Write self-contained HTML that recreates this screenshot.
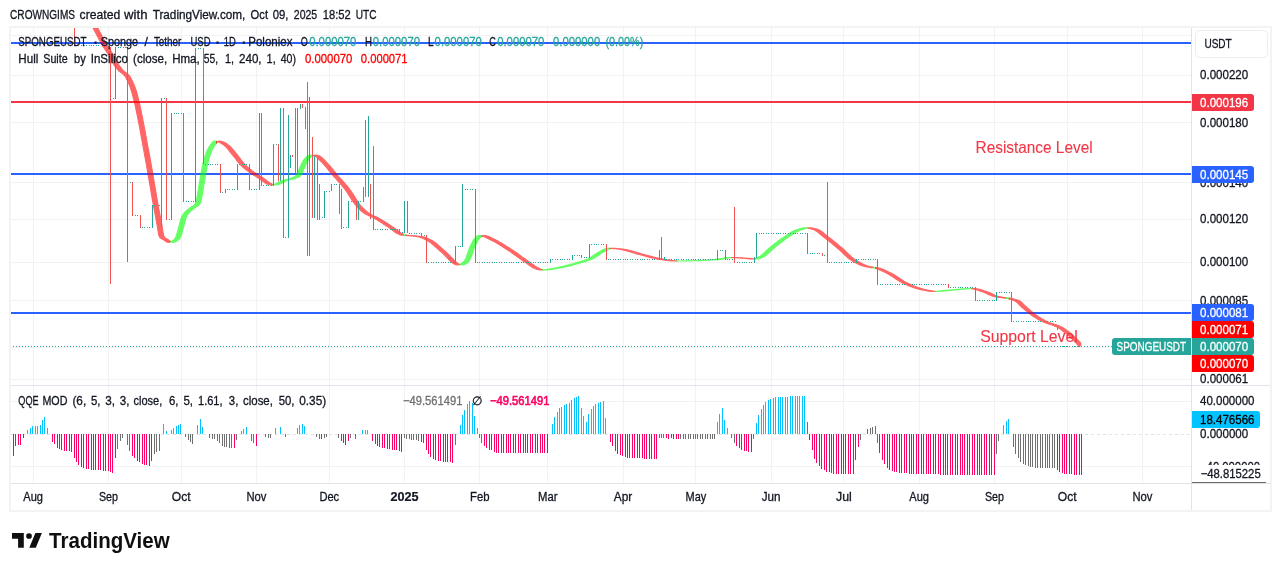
<!DOCTYPE html>
<html lang="en">
<head>
<meta charset="utf-8">
<title>SPONGEUSDT chart</title>
<style>
html,body{margin:0;padding:0;background:#fff;}
body{width:1281px;height:571px;overflow:hidden;font-family:"Liberation Sans",sans-serif;}
svg{display:block;}
</style>
</head>
<body>
<svg width="1281" height="571" viewBox="0 0 1281 571">
<rect x="0" y="0" width="1281" height="571" fill="#ffffff"/>
<g fill="#f2f2f2" shape-rendering="crispEdges">
<rect x="33" y="27" width="1" height="456"/>
<rect x="108" y="27" width="1" height="456"/>
<rect x="181" y="27" width="1" height="456"/>
<rect x="256" y="27" width="1" height="456"/>
<rect x="329" y="27" width="1" height="456"/>
<rect x="404" y="27" width="1" height="456"/>
<rect x="479" y="27" width="1" height="456"/>
<rect x="547" y="27" width="1" height="456"/>
<rect x="623" y="27" width="1" height="456"/>
<rect x="695" y="27" width="1" height="456"/>
<rect x="771" y="27" width="1" height="456"/>
<rect x="843" y="27" width="1" height="456"/>
<rect x="919" y="27" width="1" height="456"/>
<rect x="994" y="27" width="1" height="456"/>
<rect x="1067" y="27" width="1" height="456"/>
<rect x="1142" y="27" width="1" height="456"/>
<rect x="11" y="35" width="1180" height="1"/>
<rect x="11" y="75" width="1180" height="1"/>
<rect x="11" y="122" width="1180" height="1"/>
<rect x="11" y="182" width="1180" height="1"/>
<rect x="11" y="219" width="1180" height="1"/>
<rect x="11" y="262" width="1180" height="1"/>
<rect x="11" y="300" width="1180" height="1"/>
<rect x="11" y="347" width="1180" height="1"/>
<rect x="11" y="379" width="1180" height="1"/>
<rect x="11" y="401" width="1180" height="1"/>
<rect x="11" y="466" width="1180" height="1"/>
</g>
<rect x="16" y="401" width="537" height="1" fill="#ffffff" fill-opacity="0.8"/>
<line x1="11" x2="1191" y1="434.5" y2="434.5" stroke="#e2e2e2" stroke-width="1" stroke-dasharray="3 3"/>
<defs><clipPath id="cp"><rect x="11" y="27" width="1180" height="358"/></clipPath><clipPath id="cp2"><rect x="10" y="386" width="1181" height="97"/></clipPath></defs>
<g shape-rendering="crispEdges">
<rect x="11" y="42" width="1180" height="2" fill="#2962ff"/>
<rect x="11" y="101" width="1180" height="2" fill="#f23645"/>
<rect x="11" y="173" width="1180" height="2" fill="#2962ff"/>
<rect x="11" y="312" width="1180" height="2" fill="#2962ff"/>
</g>
<line x1="13" x2="1112" y1="346.5" y2="346.5" stroke="#26a69a" stroke-width="1" stroke-dasharray="1 2"/>
<g clip-path="url(#cp)">
<g opacity="0.6" fill="#ff0000" stroke="#ff0000" stroke-width="1.1" stroke-linejoin="round">
<polygon points="82.0,9.0 83.0,10.7 84.0,12.4 85.0,14.1 86.0,15.9 87.0,17.6 88.0,19.3 89.0,21.1 90.1,22.9 91.1,24.6 92.1,26.4 93.1,28.2 94.1,30.1 95.1,31.9 96.1,33.8 97.1,35.7 98.1,37.6 99.1,39.5 100.1,41.3 101.1,43.1 102.1,44.9 103.1,46.6 104.2,48.2 105.2,49.7 106.2,51.2 107.2,52.7 108.2,54.3 109.2,56.0 110.2,57.9 111.2,59.9 112.2,61.8 113.2,63.6 114.2,65.1 115.2,66.6 116.2,67.9 117.2,69.2 118.2,70.3 119.3,71.3 120.3,72.1 121.3,72.9 122.3,73.6 123.3,74.4 124.3,75.3 125.3,76.6 126.3,78.4 127.3,80.5 128.3,82.8 129.3,85.1 130.3,87.6 131.3,90.5 132.3,93.9 133.3,97.8 134.4,102.1 135.4,106.6 136.4,111.3 137.4,116.2 138.4,121.3 139.4,126.5 140.4,131.8 141.4,137.2 142.4,142.7 143.4,148.3 144.4,153.8 145.4,159.4 146.4,165.0 147.4,170.7 148.4,176.7 149.5,182.6 150.5,188.6 151.5,194.6 152.5,200.4 153.5,206.0 154.5,211.3 155.5,216.5 156.5,221.8 157.5,227.3 158.5,234.2 159.5,237.1 160.5,238.1 161.5,238.7 162.5,239.2 163.6,239.8 164.6,240.5 165.6,241.2 166.6,241.9 167.6,242.3 168.6,242.4 169.6,242.2 170.6,241.8 170.6,241.4 169.6,240.7 168.6,239.9 167.6,239.3 166.6,238.8 165.6,238.2 164.6,237.3 163.6,235.4 162.5,228.8 161.5,223.0 160.5,217.7 159.5,212.6 158.5,207.3 157.5,201.7 156.5,195.9 155.5,190.0 154.5,184.0 153.5,178.0 152.5,172.1 151.5,166.3 150.5,160.7 149.5,155.1 148.4,149.6 147.4,144.0 146.4,138.5 145.4,133.1 144.4,127.7 143.4,122.5 142.4,117.4 141.4,112.4 140.4,107.7 139.4,103.1 138.4,98.8 137.4,94.8 136.4,91.2 135.4,88.2 134.4,85.6 133.3,83.3 132.3,81.0 131.3,78.9 130.3,77.0 129.3,75.6 128.3,74.6 127.3,73.7 126.3,73.0 125.3,72.3 124.3,71.5 123.3,70.6 122.3,69.5 121.3,68.2 120.3,66.9 119.3,65.5 118.2,63.9 117.2,62.2 116.2,60.3 115.2,58.4 114.2,56.4 113.2,54.7 112.2,53.1 111.2,51.5 110.2,50.0 109.2,48.5 108.2,46.9 107.2,45.3 106.2,43.5 105.2,41.7 104.2,39.9 103.1,38.0 102.1,36.2 101.1,34.3 100.1,32.4 99.1,30.5 98.1,28.6 97.1,26.8 96.1,25.0 95.1,23.3 94.1,21.5 93.1,19.8 92.1,18.0 91.1,16.3 90.1,14.5 89.0,12.8 88.0,11.1 87.0,9.4 86.0,7.7 85.0,6.0 84.0,5.0 83.0,5.0 82.0,5.0"/>
</g>
<g opacity="0.6" fill="#00ff00" stroke="#00ff00" stroke-width="1.1" stroke-linejoin="round">
<polygon points="170.6,241.8 171.6,241.3 172.6,240.6 173.7,239.8 174.7,238.9 175.7,237.2 176.7,234.4 177.7,230.9 178.8,227.0 179.8,223.0 180.8,219.4 181.8,216.5 182.8,214.7 183.9,213.3 184.9,212.2 185.9,211.2 186.9,210.3 187.9,209.4 189.0,208.6 190.0,207.8 191.0,207.1 192.0,206.6 193.0,206.0 194.1,205.1 195.1,204.0 196.1,201.5 197.1,196.8 198.1,190.9 199.2,184.3 200.2,178.0 201.2,172.5 202.2,167.1 203.2,162.4 204.3,158.6 205.3,155.2 206.3,152.5 207.3,150.3 208.3,148.2 209.4,146.4 210.4,144.9 211.4,143.5 212.4,142.3 213.4,141.2 214.5,141.0 215.5,141.1 216.5,141.4 216.5,143.2 215.5,144.5 214.5,146.0 213.4,147.7 212.4,149.6 211.4,151.8 210.4,154.3 209.4,157.5 208.3,161.3 207.3,165.6 206.3,170.9 205.3,176.2 204.3,182.4 203.2,189.0 202.2,195.2 201.2,200.3 200.2,203.5 199.2,204.9 198.1,205.7 197.1,206.4 196.1,207.0 195.1,207.6 194.1,208.3 193.0,209.2 192.0,210.0 191.0,210.9 190.0,211.9 189.0,213.0 187.9,214.2 186.9,215.9 185.9,218.5 184.9,221.9 183.9,225.8 182.8,229.8 181.8,233.5 180.8,236.5 179.8,238.6 178.8,239.6 177.7,240.4 176.7,241.1 175.7,241.7 174.7,242.1 173.7,242.4 172.6,242.4 171.6,242.0 170.6,241.4"/>
</g>
<g opacity="0.6" fill="#ff0000" stroke="#ff0000" stroke-width="1.1" stroke-linejoin="round">
<polygon points="216.5,141.4 217.5,141.7 218.5,142.0 219.5,142.4 220.5,142.9 221.5,143.5 222.6,144.2 223.6,144.9 224.6,145.7 225.6,146.6 226.6,147.7 227.6,148.8 228.6,150.0 229.6,151.3 230.6,152.6 231.6,153.8 232.6,155.1 233.7,156.3 234.7,157.6 235.7,158.9 236.7,160.3 237.7,161.6 238.7,162.9 239.7,164.0 240.7,165.1 241.7,166.1 242.7,167.0 243.7,167.9 244.8,168.8 245.8,169.6 246.8,170.4 247.8,171.1 248.8,171.9 249.8,172.6 250.8,173.2 251.8,173.9 252.8,174.6 253.8,175.2 254.8,175.8 255.8,176.4 256.9,177.0 257.9,177.7 258.9,178.3 259.9,179.1 260.9,179.8 261.9,180.6 262.9,181.4 263.9,182.1 264.9,182.8 265.9,183.5 266.9,184.0 268.0,184.5 269.0,184.8 270.0,185.0 271.0,185.0 272.0,184.9 273.0,184.7 273.0,184.5 272.0,184.1 271.0,183.6 270.0,183.0 269.0,182.3 268.0,181.6 266.9,180.8 265.9,180.0 264.9,179.2 263.9,178.5 262.9,177.8 261.9,177.2 260.9,176.6 259.9,176.0 258.9,175.3 257.9,174.7 256.9,174.1 255.8,173.4 254.8,172.7 253.8,172.0 252.8,171.3 251.8,170.6 250.8,169.8 249.8,169.0 248.8,168.1 247.8,167.3 246.8,166.3 245.8,165.4 244.8,164.3 243.7,163.2 242.7,161.9 241.7,160.6 240.7,159.3 239.7,157.9 238.7,156.6 237.7,155.3 236.7,154.1 235.7,152.9 234.7,151.6 233.7,150.3 232.6,149.1 231.6,147.9 230.6,146.9 229.6,145.9 228.6,145.1 227.6,144.4 226.6,143.6 225.6,143.0 224.6,142.5 223.6,142.1 222.6,141.7 221.5,141.4 220.5,141.2 219.5,141.0 218.5,141.1 217.5,141.9 216.5,143.2"/>
</g>
<g opacity="0.6" fill="#00ff00" stroke="#00ff00" stroke-width="1.1" stroke-linejoin="round">
<polygon points="273.0,184.7 274.0,184.4 275.0,184.0 276.0,183.6 277.1,183.1 278.1,182.6 279.1,182.1 280.1,181.6 281.1,181.1 282.1,180.7 283.1,180.3 284.1,180.0 285.1,179.7 286.2,179.5 287.2,179.2 288.2,179.0 289.2,178.7 290.2,178.5 291.2,178.1 292.2,177.8 293.2,177.3 294.3,176.8 295.3,176.2 296.3,175.3 297.3,173.3 298.3,170.9 299.3,168.6 300.3,166.5 301.4,164.2 302.4,162.1 303.4,160.3 304.4,159.0 305.4,157.8 306.4,156.8 307.4,156.1 308.4,155.6 309.4,155.3 310.5,155.0 311.5,155.0 312.5,155.2 313.5,155.5 313.5,155.5 312.5,156.0 311.5,156.6 310.5,157.5 309.4,158.6 308.4,160.0 307.4,161.6 306.4,163.6 305.4,165.9 304.4,168.0 303.4,170.3 302.4,172.8 301.4,174.8 300.3,176.0 299.3,176.7 298.3,177.2 297.3,177.7 296.3,178.0 295.3,178.4 294.3,178.7 293.2,178.9 292.2,179.2 291.2,179.4 290.2,179.7 289.2,179.9 288.2,180.2 287.2,180.6 286.2,181.0 285.1,181.5 284.1,181.9 283.1,182.4 282.1,182.9 281.1,183.4 280.1,183.9 279.1,184.3 278.1,184.6 277.1,184.8 276.0,185.0 275.0,185.0 274.0,184.8 273.0,184.5"/>
</g>
<g opacity="0.6" fill="#ff0000" stroke="#ff0000" stroke-width="1.1" stroke-linejoin="round">
<polygon points="313.5,155.5 314.5,156.0 315.5,156.5 316.5,157.1 317.5,158.0 318.5,159.0 319.6,160.0 320.6,161.0 321.6,162.0 322.6,163.1 323.6,164.2 324.6,165.3 325.6,166.5 326.6,167.7 327.6,168.9 328.6,170.2 329.6,171.4 330.7,172.7 331.7,173.9 332.7,175.1 333.7,176.3 334.7,177.4 335.7,178.5 336.7,179.7 337.7,180.8 338.7,181.9 339.7,183.0 340.7,184.2 341.8,185.4 342.8,186.6 343.8,187.8 344.8,189.1 345.8,190.5 346.8,192.0 347.8,193.5 348.8,195.1 349.8,196.7 350.8,198.3 351.8,199.9 352.9,201.4 353.9,202.9 354.9,204.2 355.9,205.5 356.9,206.7 357.9,207.8 358.9,208.8 359.9,209.8 360.9,210.7 361.9,211.5 362.9,212.3 363.9,213.1 365.0,213.7 366.0,214.3 367.0,214.8 368.0,215.3 369.0,215.8 370.0,216.2 371.0,216.7 372.0,217.1 373.0,217.6 374.0,218.2 375.0,218.7 376.1,219.3 377.1,219.9 378.1,220.5 379.1,221.2 380.1,221.8 381.1,222.5 382.1,223.1 383.1,223.8 384.1,224.5 385.1,225.1 386.1,225.8 387.2,226.4 388.2,227.1 389.2,227.8 390.2,228.5 391.2,229.3 392.2,230.1 393.2,230.8 394.2,231.6 395.2,232.3 396.2,233.0 397.2,233.6 398.3,234.1 399.3,234.6 400.3,234.9 401.3,235.1 402.3,235.2 403.3,235.3 403.3,234.2 402.3,233.7 401.3,233.2 400.3,232.5 399.3,231.8 398.3,231.0 397.2,230.2 396.2,229.5 395.2,228.7 394.2,227.9 393.2,227.2 392.2,226.6 391.2,225.9 390.2,225.3 389.2,224.6 388.2,224.0 387.2,223.3 386.1,222.6 385.1,222.0 384.1,221.3 383.1,220.7 382.1,220.1 381.1,219.5 380.1,218.9 379.1,218.3 378.1,217.8 377.1,217.3 376.1,216.8 375.0,216.3 374.0,215.9 373.0,215.4 372.0,214.9 371.0,214.4 370.0,213.9 369.0,213.2 368.0,212.5 367.0,211.7 366.0,210.9 365.0,210.0 363.9,209.0 362.9,208.0 361.9,206.9 360.9,205.8 359.9,204.6 358.9,203.2 357.9,201.7 356.9,200.2 355.9,198.7 354.9,197.1 353.9,195.5 352.9,193.9 351.8,192.4 350.8,190.9 349.8,189.5 348.8,188.1 347.8,186.9 346.8,185.7 345.8,184.5 344.8,183.3 343.8,182.2 342.8,181.1 341.8,179.9 340.7,178.8 339.7,177.7 338.7,176.5 337.7,175.4 336.7,174.2 335.7,173.0 334.7,171.7 333.7,170.5 332.7,169.2 331.7,168.0 330.7,166.8 329.6,165.6 328.6,164.5 327.6,163.4 326.6,162.3 325.6,161.2 324.6,160.2 323.6,159.2 322.6,158.2 321.6,157.3 320.6,156.6 319.6,156.1 318.5,155.6 317.5,155.3 316.5,155.0 315.5,155.0 314.5,155.2 313.5,155.5"/>
</g>
<g opacity="0.6" fill="#00ff00" stroke="#00ff00" stroke-width="1.1" stroke-linejoin="round">
<polygon points="403.3,235.3 404.6,235.4 406.0,235.5 406.0,235.0 404.6,234.8 403.3,234.2"/>
</g>
<g opacity="0.6" fill="#ff0000" stroke="#ff0000" stroke-width="1.1" stroke-linejoin="round">
<polygon points="406.0,235.5 407.0,235.6 408.0,235.7 409.0,235.8 410.0,235.8 411.0,235.9 412.0,236.0 413.0,236.1 414.0,236.2 415.0,236.3 416.0,236.5 417.0,236.6 418.0,236.8 419.0,237.0 420.0,237.3 421.0,237.6 422.0,238.0 423.0,238.5 424.0,238.9 425.0,239.4 426.0,239.9 427.0,240.5 428.0,241.0 429.0,241.6 430.0,242.3 431.0,243.1 432.0,243.9 433.0,244.7 434.0,245.6 435.0,246.5 436.0,247.4 437.0,248.3 438.0,249.2 439.0,250.1 440.0,251.0 441.0,251.8 442.0,252.6 443.0,253.6 444.0,254.6 445.0,255.6 446.0,256.7 447.0,257.7 448.0,258.8 449.0,259.8 450.0,260.8 451.0,261.7 452.0,262.5 453.0,263.3 454.0,263.9 455.0,264.4 456.0,264.8 457.0,265.0 458.0,265.0 459.0,264.8 460.0,264.4 460.0,264.5 459.0,264.0 458.0,263.4 457.0,262.7 456.0,261.9 455.0,261.0 454.0,260.0 453.0,259.0 452.0,257.9 451.0,256.9 450.0,255.8 449.0,254.8 448.0,253.8 447.0,252.8 446.0,251.9 445.0,251.1 444.0,250.3 443.0,249.4 442.0,248.5 441.0,247.6 440.0,246.7 439.0,245.8 438.0,244.9 437.0,244.0 436.0,243.2 435.0,242.5 434.0,241.8 433.0,241.1 432.0,240.6 431.0,240.1 430.0,239.5 429.0,239.0 428.0,238.6 427.0,238.1 426.0,237.7 425.0,237.4 424.0,237.1 423.0,236.8 422.0,236.6 421.0,236.5 420.0,236.4 419.0,236.2 418.0,236.1 417.0,236.0 416.0,235.9 415.0,235.9 414.0,235.8 413.0,235.7 412.0,235.6 411.0,235.5 410.0,235.5 409.0,235.4 408.0,235.3 407.0,235.2 406.0,235.0"/>
</g>
<g opacity="0.6" fill="#00ff00" stroke="#00ff00" stroke-width="1.1" stroke-linejoin="round">
<polygon points="460.0,264.4 461.0,263.8 462.1,263.0 463.1,262.1 464.1,261.2 465.2,259.7 466.2,257.4 467.2,254.5 468.3,251.4 469.3,248.5 470.3,246.2 471.4,244.1 472.4,242.0 473.4,240.1 474.5,238.5 475.5,237.3 476.5,236.6 477.6,236.0 478.6,235.6 479.6,235.5 480.7,235.6 481.7,235.8 481.7,236.4 480.7,237.0 479.6,238.0 478.6,239.5 477.6,241.3 476.5,243.4 475.5,245.5 474.5,247.6 473.4,250.3 472.4,253.4 471.4,256.4 470.3,259.0 469.3,260.8 468.3,261.8 467.2,262.7 466.2,263.5 465.2,264.2 464.1,264.7 463.1,264.9 462.1,265.0 461.0,264.8 460.0,264.5"/>
</g>
<g opacity="0.6" fill="#ff0000" stroke="#ff0000" stroke-width="1.1" stroke-linejoin="round">
<polygon points="481.7,235.8 482.7,236.1 483.7,236.5 484.7,236.9 485.8,237.4 486.8,237.9 487.8,238.4 488.8,239.0 489.8,239.5 490.8,240.0 491.8,240.4 492.8,241.0 493.9,241.5 494.9,242.0 495.9,242.6 496.9,243.2 497.9,243.8 498.9,244.4 499.9,245.1 501.0,245.7 502.0,246.3 503.0,247.0 504.0,247.7 505.0,248.3 506.0,249.0 507.0,249.6 508.0,250.3 509.1,251.0 510.1,251.6 511.1,252.3 512.1,253.0 513.1,253.8 514.1,254.5 515.1,255.2 516.2,255.9 517.2,256.7 518.2,257.4 519.2,258.1 520.2,258.8 521.2,259.6 522.2,260.3 523.2,261.0 524.3,261.7 525.3,262.4 526.3,263.1 527.3,263.9 528.3,264.6 529.3,265.4 530.3,266.1 531.4,266.8 532.4,267.4 533.4,267.9 534.4,268.3 535.4,268.7 536.4,269.2 537.4,269.5 538.4,269.8 539.5,270.0 540.5,270.0 541.5,270.0 542.5,269.9 542.5,269.6 541.5,269.3 540.5,268.9 539.5,268.4 538.4,268.0 537.4,267.5 536.4,266.9 535.4,266.3 534.4,265.6 533.4,264.8 532.4,264.1 531.4,263.3 530.3,262.6 529.3,261.9 528.3,261.2 527.3,260.5 526.3,259.8 525.3,259.0 524.3,258.3 523.2,257.6 522.2,256.9 521.2,256.1 520.2,255.4 519.2,254.7 518.2,253.9 517.2,253.2 516.2,252.5 515.1,251.8 514.1,251.1 513.1,250.5 512.1,249.8 511.1,249.1 510.1,248.5 509.1,247.8 508.0,247.2 507.0,246.5 506.0,245.9 505.0,245.2 504.0,244.6 503.0,244.0 502.0,243.4 501.0,242.8 499.9,242.2 498.9,241.6 497.9,241.1 496.9,240.6 495.9,240.1 494.9,239.6 493.9,239.1 492.8,238.6 491.8,238.0 490.8,237.5 489.8,237.0 488.8,236.6 487.8,236.2 486.8,235.9 485.8,235.7 484.7,235.5 483.7,235.5 482.7,235.8 481.7,236.4"/>
</g>
<g opacity="0.6" fill="#00ff00" stroke="#00ff00" stroke-width="1.1" stroke-linejoin="round">
<polygon points="542.5,269.9 543.5,269.9 544.5,269.8 545.5,269.6 546.5,269.5 547.5,269.4 548.5,269.2 549.6,269.0 550.6,268.8 551.6,268.7 552.6,268.5 553.6,268.3 554.6,268.1 555.6,267.9 556.6,267.7 557.6,267.5 558.6,267.3 559.6,267.1 560.6,266.9 561.6,266.7 562.6,266.4 563.7,266.2 564.7,265.9 565.7,265.7 566.7,265.4 567.7,265.2 568.7,264.9 569.7,264.6 570.7,264.3 571.7,264.0 572.7,263.7 573.7,263.5 574.7,263.2 575.7,262.9 576.8,262.6 577.8,262.3 578.8,262.0 579.8,261.7 580.8,261.4 581.8,261.1 582.8,260.8 583.8,260.5 584.8,260.1 585.8,259.7 586.8,259.3 587.8,258.9 588.8,258.4 589.9,257.8 590.9,257.2 591.9,256.5 592.9,255.8 593.9,255.1 594.9,254.4 595.9,253.7 596.9,253.1 597.9,252.4 598.9,251.9 599.9,251.4 600.9,250.8 601.9,250.3 602.9,249.7 604.0,249.3 605.0,248.8 606.0,248.5 607.0,248.3 608.0,248.3 609.0,248.3 610.0,248.4 610.0,248.7 609.0,249.1 608.0,249.6 607.0,250.2 606.0,250.7 605.0,251.3 604.0,251.8 602.9,252.3 601.9,252.9 600.9,253.6 599.9,254.3 598.9,255.0 597.9,255.7 596.9,256.4 595.9,257.1 594.9,257.7 593.9,258.3 592.9,258.8 591.9,259.2 590.9,259.6 589.9,260.0 588.8,260.4 587.8,260.7 586.8,261.1 585.8,261.4 584.8,261.7 583.8,262.0 582.8,262.3 581.8,262.5 580.8,262.8 579.8,263.1 578.8,263.4 577.8,263.7 576.8,264.0 575.7,264.3 574.7,264.5 573.7,264.8 572.7,265.1 571.7,265.4 570.7,265.6 569.7,265.9 568.7,266.1 567.7,266.4 566.7,266.6 565.7,266.8 564.7,267.1 563.7,267.3 562.6,267.5 561.6,267.6 560.6,267.8 559.6,268.0 558.6,268.2 557.6,268.4 556.6,268.6 555.6,268.8 554.6,269.0 553.6,269.2 552.6,269.3 551.6,269.5 550.6,269.6 549.6,269.7 548.5,269.8 547.5,269.9 546.5,270.0 545.5,270.0 544.5,270.0 543.5,269.9 542.5,269.6"/>
</g>
<g opacity="0.6" fill="#ff0000" stroke="#ff0000" stroke-width="1.1" stroke-linejoin="round">
<polygon points="610.0,248.4 611.0,248.4 612.0,248.5 613.0,248.6 614.0,248.6 615.0,248.7 616.0,248.8 617.0,248.9 618.0,249.0 619.0,249.2 620.0,249.3 621.0,249.5 622.0,249.7 623.0,249.9 624.0,250.1 625.0,250.4 626.0,250.6 627.0,250.9 628.0,251.2 629.0,251.5 630.0,251.8 631.0,252.1 632.0,252.4 633.0,252.7 634.0,253.0 635.0,253.3 636.0,253.6 637.0,253.9 638.0,254.2 639.0,254.5 640.0,254.8 641.0,255.0 642.0,255.3 643.0,255.5 644.0,255.8 645.0,256.1 646.0,256.3 647.0,256.6 648.0,256.9 649.0,257.1 650.0,257.4 651.0,257.6 652.0,257.9 653.0,258.1 654.0,258.3 655.0,258.5 656.0,258.7 657.0,258.9 658.0,259.1 659.0,259.2 660.0,259.4 661.0,259.6 662.0,259.7 663.0,259.9 664.0,260.0 665.0,260.2 666.0,260.3 667.0,260.5 668.0,260.6 669.0,260.7 670.0,260.8 671.0,260.9 672.0,260.9 673.0,261.0 674.0,261.0 675.0,261.0 676.0,261.0 677.0,261.0 677.0,260.9 676.0,260.9 675.0,260.8 674.0,260.7 673.0,260.6 672.0,260.5 671.0,260.3 670.0,260.2 669.0,260.1 668.0,259.9 667.0,259.7 666.0,259.6 665.0,259.4 664.0,259.3 663.0,259.1 662.0,258.9 661.0,258.8 660.0,258.6 659.0,258.4 658.0,258.1 657.0,257.9 656.0,257.7 655.0,257.4 654.0,257.2 653.0,256.9 652.0,256.6 651.0,256.4 650.0,256.1 649.0,255.9 648.0,255.6 647.0,255.3 646.0,255.1 645.0,254.8 644.0,254.6 643.0,254.3 642.0,254.0 641.0,253.7 640.0,253.4 639.0,253.1 638.0,252.8 637.0,252.5 636.0,252.2 635.0,251.9 634.0,251.6 633.0,251.3 632.0,251.0 631.0,250.7 630.0,250.4 629.0,250.2 628.0,250.0 627.0,249.7 626.0,249.5 625.0,249.4 624.0,249.2 623.0,249.1 622.0,249.0 621.0,248.9 620.0,248.8 619.0,248.7 618.0,248.6 617.0,248.5 616.0,248.4 615.0,248.4 614.0,248.3 613.0,248.3 612.0,248.3 611.0,248.5 610.0,248.7"/>
</g>
<g opacity="0.6" fill="#00ff00" stroke="#00ff00" stroke-width="1.1" stroke-linejoin="round">
<polygon points="677.0,261.0 678.0,261.0 679.0,261.0 680.0,261.0 681.1,261.0 682.1,260.9 683.1,260.9 684.1,260.9 685.1,260.9 686.1,260.9 687.1,260.8 688.1,260.8 689.2,260.8 690.2,260.7 691.2,260.7 692.2,260.7 693.2,260.6 694.2,260.6 695.2,260.6 696.2,260.5 697.3,260.5 698.3,260.4 699.3,260.4 700.3,260.4 701.3,260.3 702.3,260.3 703.3,260.2 704.4,260.2 705.4,260.1 706.4,260.0 707.4,260.0 708.4,259.9 709.4,259.9 710.4,259.8 711.4,259.8 712.5,259.7 713.5,259.6 714.5,259.5 715.5,259.4 716.5,259.3 717.5,259.1 718.5,258.9 719.5,258.7 720.6,258.5 721.6,258.4 722.6,258.2 723.6,258.0 724.6,257.9 725.6,257.7 726.6,257.6 727.6,257.6 728.7,257.5 729.7,257.5 730.7,257.5 731.7,257.5 731.7,257.6 730.7,257.7 729.7,257.8 728.7,258.0 727.6,258.1 726.6,258.3 725.6,258.5 724.6,258.7 723.6,258.9 722.6,259.1 721.6,259.2 720.6,259.4 719.5,259.5 718.5,259.6 717.5,259.7 716.5,259.8 715.5,259.8 714.5,259.9 713.5,259.9 712.5,260.0 711.4,260.0 710.4,260.1 709.4,260.1 708.4,260.2 707.4,260.2 706.4,260.3 705.4,260.3 704.4,260.4 703.3,260.4 702.3,260.5 701.3,260.5 700.3,260.6 699.3,260.6 698.3,260.6 697.3,260.7 696.2,260.7 695.2,260.7 694.2,260.8 693.2,260.8 692.2,260.8 691.2,260.9 690.2,260.9 689.2,260.9 688.1,260.9 687.1,260.9 686.1,260.9 685.1,261.0 684.1,261.0 683.1,261.0 682.1,261.0 681.1,261.0 680.0,261.0 679.0,261.0 678.0,261.0 677.0,260.9"/>
</g>
<g opacity="0.6" fill="#ff0000" stroke="#ff0000" stroke-width="1.1" stroke-linejoin="round">
<polygon points="731.7,257.5 732.7,257.6 733.7,257.6 734.7,257.7 735.8,257.7 736.8,257.8 737.8,257.9 738.8,257.9 739.8,258.0 740.8,258.1 741.8,258.1 742.8,258.2 743.9,258.3 744.9,258.4 745.9,258.5 746.9,258.6 747.9,258.7 748.9,258.8 749.9,258.9 750.9,259.0 752.0,259.0 753.0,259.0 754.0,258.8 755.0,258.5 755.0,258.9 754.0,258.8 753.0,258.7 752.0,258.6 750.9,258.5 749.9,258.4 748.9,258.3 747.9,258.2 746.9,258.2 745.9,258.1 744.9,258.0 743.9,258.0 742.8,257.9 741.8,257.8 740.8,257.7 739.8,257.7 738.8,257.6 737.8,257.6 736.8,257.5 735.8,257.5 734.7,257.5 733.7,257.5 732.7,257.5 731.7,257.6"/>
</g>
<g opacity="0.6" fill="#00ff00" stroke="#00ff00" stroke-width="1.1" stroke-linejoin="round">
<polygon points="755.0,258.5 756.0,258.2 757.0,257.7 758.0,257.3 759.0,256.8 760.0,256.2 761.1,255.4 762.1,254.6 763.1,253.8 764.1,252.9 765.1,251.9 766.1,251.0 767.1,250.0 768.1,249.1 769.1,248.2 770.1,247.3 771.2,246.5 772.2,245.7 773.2,244.9 774.2,244.1 775.2,243.3 776.2,242.6 777.2,241.8 778.2,241.0 779.2,240.3 780.2,239.5 781.2,238.8 782.3,238.1 783.3,237.4 784.3,236.7 785.3,236.1 786.3,235.4 787.3,234.7 788.3,234.0 789.3,233.4 790.3,232.7 791.3,232.1 792.4,231.6 793.4,231.1 794.4,230.6 795.4,230.2 796.4,229.8 797.4,229.5 798.4,229.2 799.4,228.8 800.4,228.5 801.4,228.3 802.5,228.1 803.5,227.9 804.5,227.8 805.5,227.8 806.5,227.9 807.5,228.0 807.5,228.0 806.5,228.2 805.5,228.5 804.5,228.8 803.5,229.1 802.5,229.4 801.4,229.8 800.4,230.1 799.4,230.5 798.4,230.9 797.4,231.4 796.4,232.0 795.4,232.6 794.4,233.2 793.4,233.9 792.4,234.5 791.3,235.2 790.3,235.9 789.3,236.6 788.3,237.2 787.3,237.9 786.3,238.6 785.3,239.3 784.3,240.1 783.3,240.8 782.3,241.6 781.2,242.4 780.2,243.2 779.2,243.9 778.2,244.7 777.2,245.5 776.2,246.3 775.2,247.1 774.2,248.0 773.2,248.9 772.2,249.8 771.2,250.7 770.1,251.7 769.1,252.6 768.1,253.6 767.1,254.4 766.1,255.2 765.1,256.0 764.1,256.6 763.1,257.2 762.1,257.6 761.1,258.1 760.0,258.5 759.0,258.8 758.0,259.0 757.0,259.0 756.0,259.0 755.0,258.9"/>
</g>
<g opacity="0.6" fill="#ff0000" stroke="#ff0000" stroke-width="1.1" stroke-linejoin="round">
<polygon points="807.5,228.0 808.5,228.2 809.5,228.4 810.5,228.7 811.5,229.0 812.5,229.3 813.5,229.6 814.6,230.1 815.6,230.7 816.6,231.3 817.6,232.1 818.6,232.8 819.6,233.7 820.6,234.5 821.6,235.3 822.6,236.2 823.6,237.0 824.6,237.7 825.6,238.5 826.6,239.3 827.7,240.1 828.7,240.9 829.7,241.7 830.7,242.5 831.7,243.3 832.7,244.2 833.7,245.0 834.7,245.9 835.7,246.7 836.7,247.6 837.7,248.4 838.7,249.3 839.7,250.2 840.8,251.2 841.8,252.1 842.8,253.1 843.8,254.1 844.8,255.0 845.8,255.9 846.8,256.9 847.8,257.7 848.8,258.5 849.8,259.3 850.8,260.0 851.8,260.6 852.8,261.2 853.9,261.8 854.9,262.4 855.9,262.9 856.9,263.5 857.9,264.0 858.9,264.4 859.9,264.9 860.9,265.2 861.9,265.6 862.9,265.9 863.9,266.2 864.9,266.4 865.9,266.7 867.0,266.9 868.0,267.1 869.0,267.2 870.0,267.4 871.0,267.6 872.0,267.7 873.0,267.8 873.0,267.1 872.0,266.9 871.0,266.7 870.0,266.5 869.0,266.2 868.0,266.0 867.0,265.7 865.9,265.3 864.9,265.0 863.9,264.5 862.9,264.1 861.9,263.6 860.9,263.1 859.9,262.5 858.9,261.9 857.9,261.3 856.9,260.7 855.9,260.1 854.9,259.4 853.9,258.7 852.8,257.9 851.8,257.1 850.8,256.2 849.8,255.2 848.8,254.3 847.8,253.3 846.8,252.3 845.8,251.4 844.8,250.4 843.8,249.5 842.8,248.6 841.8,247.8 840.8,246.9 839.7,246.1 838.7,245.2 837.7,244.4 836.7,243.5 835.7,242.7 834.7,241.9 833.7,241.1 832.7,240.3 831.7,239.5 830.7,238.7 829.7,237.9 828.7,237.2 827.7,236.4 826.6,235.5 825.6,234.7 824.6,233.9 823.6,233.0 822.6,232.2 821.6,231.5 820.6,230.8 819.6,230.2 818.6,229.7 817.6,229.4 816.6,229.1 815.6,228.8 814.6,228.5 813.5,228.2 812.5,228.0 811.5,227.9 810.5,227.8 809.5,227.8 808.5,227.9 807.5,228.0"/>
</g>
<g opacity="0.6" fill="#00ff00" stroke="#00ff00" stroke-width="1.1" stroke-linejoin="round">
<polygon points="873.0,267.8 874.2,268.0 875.5,268.4 875.5,267.5 874.2,267.3 873.0,267.1"/>
</g>
<g opacity="0.6" fill="#ff0000" stroke="#ff0000" stroke-width="1.1" stroke-linejoin="round">
<polygon points="875.5,268.4 876.5,268.7 877.5,269.0 878.5,269.4 879.6,269.9 880.6,270.3 881.6,270.8 882.6,271.3 883.6,271.8 884.6,272.2 885.7,272.7 886.7,273.2 887.7,273.8 888.7,274.4 889.7,275.0 890.7,275.6 891.7,276.3 892.8,276.9 893.8,277.6 894.8,278.3 895.8,279.0 896.8,279.6 897.8,280.3 898.9,280.9 899.9,281.5 900.9,282.1 901.9,282.7 902.9,283.2 903.9,283.6 904.9,284.1 906.0,284.6 907.0,285.0 908.0,285.5 909.0,285.9 910.0,286.3 911.0,286.7 912.0,287.1 913.1,287.5 914.1,287.8 915.1,288.1 916.1,288.4 917.1,288.7 918.1,289.0 919.2,289.2 920.2,289.4 921.2,289.7 922.2,289.9 923.2,290.1 924.2,290.3 925.2,290.5 926.3,290.7 927.3,290.9 928.3,291.1 929.3,291.2 930.3,291.3 931.3,291.4 932.4,291.4 933.4,291.4 934.4,291.4 935.4,291.3 935.4,291.3 934.4,291.2 933.4,291.1 932.4,290.9 931.3,290.8 930.3,290.6 929.3,290.4 928.3,290.2 927.3,290.0 926.3,289.7 925.2,289.5 924.2,289.3 923.2,289.0 922.2,288.8 921.2,288.5 920.2,288.2 919.2,287.9 918.1,287.6 917.1,287.2 916.1,286.8 915.1,286.4 914.1,286.0 913.1,285.6 912.0,285.1 911.0,284.7 910.0,284.2 909.0,283.8 908.0,283.3 907.0,282.8 906.0,282.3 904.9,281.7 903.9,281.1 902.9,280.4 901.9,279.8 900.9,279.1 899.9,278.5 898.9,277.8 897.8,277.1 896.8,276.4 895.8,275.8 894.8,275.1 893.8,274.5 892.8,273.9 891.7,273.4 890.7,272.8 889.7,272.4 888.7,271.9 887.7,271.4 886.7,270.9 885.7,270.5 884.6,270.0 883.6,269.6 882.6,269.1 881.6,268.8 880.6,268.4 879.6,268.2 878.5,267.9 877.5,267.7 876.5,267.6 875.5,267.5"/>
</g>
<g opacity="0.6" fill="#00ff00" stroke="#00ff00" stroke-width="1.1" stroke-linejoin="round">
<polygon points="935.4,291.3 936.4,291.3 937.4,291.2 938.4,291.1 939.5,291.0 940.5,290.9 941.5,290.8 942.5,290.7 943.5,290.6 944.5,290.5 945.6,290.4 946.6,290.3 947.6,290.2 948.6,290.1 949.6,290.0 950.6,289.9 951.7,289.8 952.7,289.7 953.7,289.6 954.7,289.6 955.7,289.5 956.8,289.4 957.8,289.3 958.8,289.2 959.8,289.1 960.8,289.0 961.8,288.9 962.9,288.9 963.9,288.8 964.9,288.7 965.9,288.7 966.9,288.6 967.9,288.6 969.0,288.6 970.0,288.6 971.0,288.7 972.0,288.8 972.0,288.6 971.0,288.7 970.0,288.7 969.0,288.8 967.9,288.8 966.9,288.9 965.9,289.0 964.9,289.1 963.9,289.2 962.9,289.2 961.8,289.3 960.8,289.4 959.8,289.5 958.8,289.6 957.8,289.7 956.8,289.8 955.7,289.9 954.7,290.0 953.7,290.1 952.7,290.1 951.7,290.2 950.6,290.4 949.6,290.5 948.6,290.6 947.6,290.7 946.6,290.8 945.6,290.9 944.5,291.0 943.5,291.1 942.5,291.2 941.5,291.3 940.5,291.3 939.5,291.4 938.4,291.4 937.4,291.4 936.4,291.4 935.4,291.3"/>
</g>
<g opacity="0.6" fill="#ff0000" stroke="#ff0000" stroke-width="1.1" stroke-linejoin="round">
<polygon points="972.0,288.8 973.0,288.9 974.0,289.1 975.0,289.4 976.0,289.7 977.0,290.0 978.0,290.3 979.0,290.6 980.0,290.9 981.0,291.3 982.0,291.6 983.0,291.9 984.0,292.3 985.0,292.7 986.0,293.2 987.0,293.7 988.0,294.2 989.0,294.7 990.0,295.1 991.0,295.5 992.0,295.9 993.0,296.2 994.0,296.5 995.0,296.7 996.0,296.9 997.0,297.1 998.0,297.2 999.0,297.4 1000.0,297.5 1001.0,297.6 1002.0,297.8 1003.0,297.9 1004.0,298.1 1005.0,298.2 1006.0,298.3 1006.0,297.7 1005.0,297.5 1004.0,297.4 1003.0,297.2 1002.0,297.1 1001.0,296.9 1000.0,296.7 999.0,296.5 998.0,296.3 997.0,296.0 996.0,295.6 995.0,295.2 994.0,294.7 993.0,294.3 992.0,293.8 991.0,293.3 990.0,292.8 989.0,292.4 988.0,292.0 987.0,291.7 986.0,291.3 985.0,291.0 984.0,290.7 983.0,290.3 982.0,290.0 981.0,289.7 980.0,289.4 979.0,289.2 978.0,289.0 977.0,288.8 976.0,288.7 975.0,288.6 974.0,288.6 973.0,288.6 972.0,288.6"/>
</g>
<g opacity="0.6" fill="#00ff00" stroke="#00ff00" stroke-width="1.1" stroke-linejoin="round">
<polygon points="1006.0,298.3 1007.0,298.5 1008.0,298.7 1009.0,298.9 1009.0,298.1 1008.0,297.9 1007.0,297.8 1006.0,297.7"/>
</g>
<g opacity="0.6" fill="#ff0000" stroke="#ff0000" stroke-width="1.1" stroke-linejoin="round">
<polygon points="1009.0,298.9 1010.0,299.2 1011.0,299.5 1012.0,299.8 1013.0,300.2 1014.0,300.6 1015.1,301.1 1016.1,301.8 1017.1,302.6 1018.1,303.5 1019.1,304.5 1020.1,305.5 1021.1,306.5 1022.1,307.5 1023.1,308.3 1024.1,309.2 1025.2,310.0 1026.2,310.9 1027.2,311.7 1028.2,312.6 1029.2,313.4 1030.2,314.2 1031.2,314.9 1032.2,315.7 1033.2,316.3 1034.2,317.0 1035.3,317.6 1036.3,318.2 1037.3,318.9 1038.3,319.4 1039.3,320.0 1040.3,320.5 1041.3,321.1 1042.3,321.6 1043.3,322.0 1044.3,322.4 1045.4,322.8 1046.4,323.2 1047.4,323.5 1048.4,323.9 1049.4,324.2 1050.4,324.5 1051.4,324.8 1052.4,325.2 1053.4,325.5 1054.4,325.9 1055.5,326.4 1056.5,326.8 1057.5,327.4 1058.5,328.0 1059.5,328.6 1060.5,329.3 1061.5,330.0 1062.5,330.7 1063.5,331.5 1064.5,332.3 1065.6,333.1 1066.6,333.9 1067.6,334.8 1068.6,335.7 1069.6,336.6 1070.6,337.6 1071.6,338.5 1072.6,339.5 1073.6,340.6 1074.6,341.6 1075.7,342.7 1076.7,343.8 1077.7,345.0 1078.7,345.7 1079.7,345.7 1080.7,345.7 1080.7,343.0 1079.7,341.9 1078.7,340.8 1077.7,339.8 1076.7,338.8 1075.7,337.8 1074.6,336.8 1073.6,335.9 1072.6,335.0 1071.6,334.2 1070.6,333.3 1069.6,332.5 1068.6,331.7 1067.6,330.9 1066.6,330.2 1065.6,329.5 1064.5,328.8 1063.5,328.1 1062.5,327.5 1061.5,327.0 1060.5,326.5 1059.5,326.0 1058.5,325.6 1057.5,325.3 1056.5,324.9 1055.5,324.6 1054.4,324.3 1053.4,323.9 1052.4,323.6 1051.4,323.3 1050.4,322.9 1049.4,322.5 1048.4,322.1 1047.4,321.7 1046.4,321.2 1045.4,320.7 1044.3,320.1 1043.3,319.6 1042.3,319.0 1041.3,318.4 1040.3,317.8 1039.3,317.1 1038.3,316.5 1037.3,315.8 1036.3,315.1 1035.3,314.4 1034.2,313.6 1033.2,312.8 1032.2,311.9 1031.2,311.1 1030.2,310.2 1029.2,309.4 1028.2,308.5 1027.2,307.7 1026.2,306.7 1025.2,305.8 1024.1,304.8 1023.1,303.8 1022.1,302.8 1021.1,302.0 1020.1,301.3 1019.1,300.7 1018.1,300.3 1017.1,299.9 1016.1,299.5 1015.1,299.2 1014.0,299.0 1013.0,298.7 1012.0,298.5 1011.0,298.3 1010.0,298.2 1009.0,298.1"/>
</g>
</g>
<g clip-path="url(#cp)" shape-rendering="crispEdges">
<g fill="#26a69a">
<rect x="81" y="45" width="1" height="1"/>
<rect x="84" y="45" width="1" height="1"/>
<rect x="86" y="45" width="1" height="1"/>
<rect x="89" y="45" width="1" height="1"/>
<rect x="91" y="45" width="1" height="1"/>
<rect x="93" y="45" width="1" height="1"/>
<rect x="96" y="45" width="1" height="1"/>
<rect x="98" y="45" width="1" height="1"/>
<rect x="118" y="47" width="1" height="1"/>
<rect x="120" y="47" width="1" height="1"/>
<rect x="123" y="47" width="1" height="1"/>
<rect x="125" y="47" width="1" height="1"/>
<rect x="198" y="48" width="1" height="1"/>
<rect x="200" y="48" width="1" height="1"/>
<rect x="113" y="98" width="1" height="1"/>
<rect x="164" y="98" width="1" height="1"/>
<rect x="174" y="113" width="1" height="1"/>
<rect x="176" y="113" width="1" height="1"/>
<rect x="178" y="113" width="1" height="1"/>
<rect x="181" y="113" width="1" height="1"/>
<rect x="130" y="182" width="1" height="1"/>
<rect x="135" y="215" width="1" height="1"/>
<rect x="137" y="215" width="1" height="1"/>
<rect x="142" y="227" width="1" height="1"/>
<rect x="144" y="227" width="1" height="1"/>
<rect x="147" y="227" width="1" height="1"/>
<rect x="149" y="227" width="1" height="1"/>
<rect x="154" y="205" width="1" height="1"/>
<rect x="157" y="205" width="1" height="1"/>
<rect x="159" y="205" width="1" height="1"/>
<rect x="169" y="219" width="1" height="1"/>
<rect x="186" y="201" width="1" height="1"/>
<rect x="188" y="201" width="1" height="1"/>
<rect x="191" y="201" width="1" height="1"/>
<rect x="193" y="201" width="1" height="1"/>
<rect x="205" y="164" width="1" height="1"/>
<rect x="208" y="164" width="1" height="1"/>
<rect x="210" y="164" width="1" height="1"/>
<rect x="212" y="164" width="1" height="1"/>
<rect x="215" y="164" width="1" height="1"/>
<rect x="217" y="164" width="1" height="1"/>
<rect x="222" y="192" width="1" height="1"/>
<rect x="227" y="189" width="1" height="1"/>
<rect x="229" y="189" width="1" height="1"/>
<rect x="232" y="189" width="1" height="1"/>
<rect x="234" y="189" width="1" height="1"/>
<rect x="239" y="164" width="1" height="1"/>
<rect x="242" y="164" width="1" height="1"/>
<rect x="244" y="164" width="1" height="1"/>
<rect x="246" y="164" width="1" height="1"/>
<rect x="251" y="189" width="1" height="1"/>
<rect x="254" y="189" width="1" height="1"/>
<rect x="256" y="189" width="1" height="1"/>
<rect x="263" y="185" width="1" height="1"/>
<rect x="266" y="185" width="1" height="1"/>
<rect x="268" y="185" width="1" height="1"/>
<rect x="271" y="185" width="1" height="1"/>
<rect x="276" y="144" width="1" height="1"/>
<rect x="285" y="237" width="1" height="1"/>
<rect x="322" y="217" width="1" height="1"/>
<rect x="326" y="191" width="1" height="1"/>
<rect x="329" y="191" width="1" height="1"/>
<rect x="334" y="184" width="1" height="1"/>
<rect x="336" y="184" width="1" height="1"/>
<rect x="343" y="227" width="1" height="1"/>
<rect x="346" y="227" width="1" height="1"/>
<rect x="351" y="201" width="1" height="1"/>
<rect x="353" y="201" width="1" height="1"/>
<rect x="360" y="201" width="1" height="1"/>
<rect x="375" y="229" width="1" height="1"/>
<rect x="377" y="229" width="1" height="1"/>
<rect x="380" y="229" width="1" height="1"/>
<rect x="382" y="229" width="1" height="1"/>
<rect x="385" y="229" width="1" height="1"/>
<rect x="387" y="229" width="1" height="1"/>
<rect x="390" y="229" width="1" height="1"/>
<rect x="392" y="229" width="1" height="1"/>
<rect x="394" y="229" width="1" height="1"/>
<rect x="397" y="229" width="1" height="1"/>
<rect x="402" y="232" width="1" height="1"/>
<rect x="409" y="233" width="1" height="1"/>
<rect x="411" y="233" width="1" height="1"/>
<rect x="414" y="233" width="1" height="1"/>
<rect x="416" y="233" width="1" height="1"/>
<rect x="419" y="233" width="1" height="1"/>
<rect x="421" y="233" width="1" height="1"/>
<rect x="424" y="235" width="1" height="1"/>
<rect x="428" y="262" width="1" height="1"/>
<rect x="431" y="262" width="1" height="1"/>
<rect x="433" y="262" width="1" height="1"/>
<rect x="436" y="262" width="1" height="1"/>
<rect x="438" y="262" width="1" height="1"/>
<rect x="441" y="262" width="1" height="1"/>
<rect x="443" y="262" width="1" height="1"/>
<rect x="445" y="262" width="1" height="1"/>
<rect x="448" y="262" width="1" height="1"/>
<rect x="450" y="262" width="1" height="1"/>
<rect x="453" y="262" width="1" height="1"/>
<rect x="458" y="246" width="1" height="1"/>
<rect x="460" y="246" width="1" height="1"/>
<rect x="465" y="189" width="1" height="1"/>
<rect x="467" y="189" width="1" height="1"/>
<rect x="470" y="189" width="1" height="1"/>
<rect x="472" y="189" width="1" height="1"/>
<rect x="477" y="262" width="1" height="1"/>
<rect x="479" y="262" width="1" height="1"/>
<rect x="482" y="262" width="1" height="1"/>
<rect x="484" y="262" width="1" height="1"/>
<rect x="487" y="262" width="1" height="1"/>
<rect x="489" y="262" width="1" height="1"/>
<rect x="492" y="262" width="1" height="1"/>
<rect x="494" y="262" width="1" height="1"/>
<rect x="496" y="262" width="1" height="1"/>
<rect x="499" y="262" width="1" height="1"/>
<rect x="501" y="262" width="1" height="1"/>
<rect x="504" y="262" width="1" height="1"/>
<rect x="506" y="262" width="1" height="1"/>
<rect x="509" y="262" width="1" height="1"/>
<rect x="511" y="262" width="1" height="1"/>
<rect x="513" y="262" width="1" height="1"/>
<rect x="516" y="262" width="1" height="1"/>
<rect x="518" y="262" width="1" height="1"/>
<rect x="521" y="262" width="1" height="1"/>
<rect x="523" y="262" width="1" height="1"/>
<rect x="526" y="262" width="1" height="1"/>
<rect x="528" y="262" width="1" height="1"/>
<rect x="530" y="262" width="1" height="1"/>
<rect x="533" y="262" width="1" height="1"/>
<rect x="535" y="262" width="1" height="1"/>
<rect x="538" y="262" width="1" height="1"/>
<rect x="540" y="262" width="1" height="1"/>
<rect x="543" y="262" width="1" height="1"/>
<rect x="545" y="262" width="1" height="1"/>
<rect x="547" y="262" width="1" height="1"/>
<rect x="552" y="259" width="1" height="1"/>
<rect x="555" y="259" width="1" height="1"/>
<rect x="557" y="259" width="1" height="1"/>
<rect x="560" y="259" width="1" height="1"/>
<rect x="562" y="259" width="1" height="1"/>
<rect x="564" y="259" width="1" height="1"/>
<rect x="567" y="259" width="1" height="1"/>
<rect x="569" y="259" width="1" height="1"/>
<rect x="574" y="255" width="1" height="1"/>
<rect x="577" y="255" width="1" height="1"/>
<rect x="579" y="255" width="1" height="1"/>
<rect x="584" y="257" width="1" height="1"/>
<rect x="586" y="257" width="1" height="1"/>
<rect x="591" y="244" width="1" height="1"/>
<rect x="594" y="244" width="1" height="1"/>
<rect x="596" y="244" width="1" height="1"/>
<rect x="598" y="244" width="1" height="1"/>
<rect x="601" y="244" width="1" height="1"/>
<rect x="603" y="244" width="1" height="1"/>
<rect x="608" y="259" width="1" height="1"/>
<rect x="610" y="259" width="1" height="1"/>
<rect x="613" y="259" width="1" height="1"/>
<rect x="615" y="259" width="1" height="1"/>
<rect x="618" y="259" width="1" height="1"/>
<rect x="620" y="259" width="1" height="1"/>
<rect x="623" y="259" width="1" height="1"/>
<rect x="625" y="259" width="1" height="1"/>
<rect x="627" y="259" width="1" height="1"/>
<rect x="630" y="259" width="1" height="1"/>
<rect x="632" y="259" width="1" height="1"/>
<rect x="635" y="259" width="1" height="1"/>
<rect x="637" y="259" width="1" height="1"/>
<rect x="640" y="259" width="1" height="1"/>
<rect x="642" y="259" width="1" height="1"/>
<rect x="644" y="259" width="1" height="1"/>
<rect x="647" y="259" width="1" height="1"/>
<rect x="649" y="259" width="1" height="1"/>
<rect x="652" y="259" width="1" height="1"/>
<rect x="654" y="259" width="1" height="1"/>
<rect x="657" y="259" width="1" height="1"/>
<rect x="666" y="259" width="1" height="1"/>
<rect x="669" y="259" width="1" height="1"/>
<rect x="671" y="259" width="1" height="1"/>
<rect x="674" y="259" width="1" height="1"/>
<rect x="676" y="259" width="1" height="1"/>
<rect x="678" y="259" width="1" height="1"/>
<rect x="681" y="259" width="1" height="1"/>
<rect x="683" y="259" width="1" height="1"/>
<rect x="686" y="259" width="1" height="1"/>
<rect x="688" y="259" width="1" height="1"/>
<rect x="691" y="259" width="1" height="1"/>
<rect x="693" y="259" width="1" height="1"/>
<rect x="695" y="259" width="1" height="1"/>
<rect x="698" y="259" width="1" height="1"/>
<rect x="700" y="259" width="1" height="1"/>
<rect x="703" y="259" width="1" height="1"/>
<rect x="705" y="259" width="1" height="1"/>
<rect x="708" y="259" width="1" height="1"/>
<rect x="710" y="259" width="1" height="1"/>
<rect x="712" y="259" width="1" height="1"/>
<rect x="715" y="259" width="1" height="1"/>
<rect x="720" y="250" width="1" height="1"/>
<rect x="722" y="250" width="1" height="1"/>
<rect x="727" y="259" width="1" height="1"/>
<rect x="729" y="259" width="1" height="1"/>
<rect x="732" y="259" width="1" height="1"/>
<rect x="737" y="262" width="1" height="1"/>
<rect x="739" y="262" width="1" height="1"/>
<rect x="742" y="262" width="1" height="1"/>
<rect x="744" y="262" width="1" height="1"/>
<rect x="746" y="262" width="1" height="1"/>
<rect x="749" y="262" width="1" height="1"/>
<rect x="751" y="262" width="1" height="1"/>
<rect x="759" y="233" width="1" height="1"/>
<rect x="761" y="233" width="1" height="1"/>
<rect x="763" y="233" width="1" height="1"/>
<rect x="766" y="233" width="1" height="1"/>
<rect x="768" y="233" width="1" height="1"/>
<rect x="771" y="233" width="1" height="1"/>
<rect x="773" y="233" width="1" height="1"/>
<rect x="776" y="233" width="1" height="1"/>
<rect x="778" y="233" width="1" height="1"/>
<rect x="780" y="233" width="1" height="1"/>
<rect x="783" y="233" width="1" height="1"/>
<rect x="785" y="233" width="1" height="1"/>
<rect x="788" y="233" width="1" height="1"/>
<rect x="790" y="233" width="1" height="1"/>
<rect x="793" y="233" width="1" height="1"/>
<rect x="795" y="233" width="1" height="1"/>
<rect x="797" y="233" width="1" height="1"/>
<rect x="800" y="233" width="1" height="1"/>
<rect x="802" y="233" width="1" height="1"/>
<rect x="805" y="233" width="1" height="1"/>
<rect x="810" y="253" width="1" height="1"/>
<rect x="812" y="253" width="1" height="1"/>
<rect x="814" y="253" width="1" height="1"/>
<rect x="817" y="253" width="1" height="1"/>
<rect x="819" y="253" width="1" height="1"/>
<rect x="824" y="255" width="1" height="1"/>
<rect x="829" y="262" width="1" height="1"/>
<rect x="831" y="262" width="1" height="1"/>
<rect x="834" y="262" width="1" height="1"/>
<rect x="836" y="262" width="1" height="1"/>
<rect x="839" y="262" width="1" height="1"/>
<rect x="841" y="262" width="1" height="1"/>
<rect x="844" y="262" width="1" height="1"/>
<rect x="846" y="262" width="1" height="1"/>
<rect x="848" y="262" width="1" height="1"/>
<rect x="851" y="262" width="1" height="1"/>
<rect x="853" y="262" width="1" height="1"/>
<rect x="858" y="259" width="1" height="1"/>
<rect x="861" y="259" width="1" height="1"/>
<rect x="863" y="259" width="1" height="1"/>
<rect x="865" y="259" width="1" height="1"/>
<rect x="868" y="259" width="1" height="1"/>
<rect x="870" y="259" width="1" height="1"/>
<rect x="873" y="259" width="1" height="1"/>
<rect x="875" y="259" width="1" height="1"/>
<rect x="880" y="284" width="1" height="1"/>
<rect x="882" y="284" width="1" height="1"/>
<rect x="885" y="284" width="1" height="1"/>
<rect x="887" y="284" width="1" height="1"/>
<rect x="890" y="284" width="1" height="1"/>
<rect x="892" y="284" width="1" height="1"/>
<rect x="895" y="284" width="1" height="1"/>
<rect x="897" y="284" width="1" height="1"/>
<rect x="899" y="284" width="1" height="1"/>
<rect x="902" y="284" width="1" height="1"/>
<rect x="904" y="284" width="1" height="1"/>
<rect x="907" y="284" width="1" height="1"/>
<rect x="909" y="284" width="1" height="1"/>
<rect x="912" y="284" width="1" height="1"/>
<rect x="914" y="284" width="1" height="1"/>
<rect x="916" y="284" width="1" height="1"/>
<rect x="919" y="284" width="1" height="1"/>
<rect x="921" y="284" width="1" height="1"/>
<rect x="924" y="284" width="1" height="1"/>
<rect x="926" y="284" width="1" height="1"/>
<rect x="928" y="284" width="1" height="1"/>
<rect x="931" y="284" width="1" height="1"/>
<rect x="933" y="284" width="1" height="1"/>
<rect x="936" y="284" width="1" height="1"/>
<rect x="938" y="284" width="1" height="1"/>
<rect x="941" y="284" width="1" height="1"/>
<rect x="943" y="284" width="1" height="1"/>
<rect x="945" y="284" width="1" height="1"/>
<rect x="950" y="287" width="1" height="1"/>
<rect x="953" y="287" width="1" height="1"/>
<rect x="955" y="287" width="1" height="1"/>
<rect x="958" y="287" width="1" height="1"/>
<rect x="960" y="287" width="1" height="1"/>
<rect x="962" y="287" width="1" height="1"/>
<rect x="965" y="287" width="1" height="1"/>
<rect x="967" y="287" width="1" height="1"/>
<rect x="970" y="287" width="1" height="1"/>
<rect x="972" y="287" width="1" height="1"/>
<rect x="977" y="300" width="1" height="1"/>
<rect x="979" y="300" width="1" height="1"/>
<rect x="982" y="300" width="1" height="1"/>
<rect x="984" y="300" width="1" height="1"/>
<rect x="987" y="300" width="1" height="1"/>
<rect x="989" y="300" width="1" height="1"/>
<rect x="992" y="300" width="1" height="1"/>
<rect x="994" y="300" width="1" height="1"/>
<rect x="999" y="292" width="1" height="1"/>
<rect x="1001" y="292" width="1" height="1"/>
<rect x="1004" y="292" width="1" height="1"/>
<rect x="1006" y="292" width="1" height="1"/>
<rect x="1009" y="292" width="1" height="1"/>
<rect x="1013" y="321" width="1" height="1"/>
<rect x="1016" y="321" width="1" height="1"/>
<rect x="1018" y="321" width="1" height="1"/>
<rect x="1021" y="321" width="1" height="1"/>
<rect x="1023" y="321" width="1" height="1"/>
<rect x="1026" y="321" width="1" height="1"/>
<rect x="1028" y="321" width="1" height="1"/>
<rect x="1030" y="321" width="1" height="1"/>
<rect x="1033" y="321" width="1" height="1"/>
<rect x="1035" y="321" width="1" height="1"/>
<rect x="1038" y="321" width="1" height="1"/>
<rect x="1040" y="321" width="1" height="1"/>
<rect x="1043" y="321" width="1" height="1"/>
<rect x="1045" y="321" width="1" height="1"/>
<rect x="1047" y="321" width="1" height="1"/>
<rect x="1050" y="321" width="1" height="1"/>
<rect x="1052" y="321" width="1" height="1"/>
<rect x="1055" y="321" width="1" height="1"/>
<rect x="1062" y="346" width="1" height="1"/>
<rect x="1064" y="346" width="1" height="1"/>
<rect x="1067" y="346" width="1" height="1"/>
<rect x="1069" y="346" width="1" height="1"/>
<rect x="1072" y="346" width="1" height="1"/>
<rect x="1074" y="346" width="1" height="1"/>
<rect x="1077" y="346" width="1" height="1"/>
<rect x="1079" y="346" width="1" height="1"/>
<rect x="115" y="47" width="1" height="52"/>
<rect x="152" y="205" width="1" height="23"/>
<rect x="161" y="98" width="1" height="129"/>
<rect x="171" y="113" width="1" height="107"/>
<rect x="195" y="48" width="1" height="154"/>
<rect x="225" y="189" width="1" height="4"/>
<rect x="237" y="164" width="1" height="26"/>
<rect x="259" y="113" width="1" height="77"/>
<rect x="273" y="144" width="1" height="42"/>
<rect x="280" y="108" width="1" height="73"/>
<rect x="288" y="115" width="1" height="123"/>
<rect x="290" y="155" width="1" height="13"/>
<rect x="297" y="108" width="1" height="65"/>
<rect x="300" y="104" width="1" height="5"/>
<rect x="309" y="97" width="1" height="159"/>
<rect x="314" y="156" width="1" height="62"/>
<rect x="319" y="184" width="1" height="36"/>
<rect x="324" y="191" width="1" height="27"/>
<rect x="331" y="184" width="1" height="7"/>
<rect x="348" y="201" width="1" height="27"/>
<rect x="358" y="201" width="1" height="19"/>
<rect x="363" y="187" width="1" height="15"/>
<rect x="368" y="116" width="1" height="81"/>
<rect x="404" y="201" width="1" height="32"/>
<rect x="455" y="246" width="1" height="17"/>
<rect x="462" y="184" width="1" height="63"/>
<rect x="550" y="259" width="1" height="4"/>
<rect x="572" y="255" width="1" height="5"/>
<rect x="589" y="244" width="1" height="14"/>
<rect x="659" y="250" width="1" height="10"/>
<rect x="664" y="257" width="1" height="3"/>
<rect x="717" y="250" width="1" height="10"/>
<rect x="754" y="257" width="1" height="6"/>
<rect x="756" y="233" width="1" height="25"/>
<rect x="856" y="259" width="1" height="4"/>
<rect x="996" y="292" width="1" height="9"/>
</g>
<g fill="#ef5350">
<rect x="74" y="27" width="1" height="19"/>
<rect x="110" y="47" width="1" height="237"/>
<rect x="127" y="47" width="1" height="215"/>
<rect x="132" y="182" width="1" height="34"/>
<rect x="140" y="215" width="1" height="13"/>
<rect x="166" y="98" width="1" height="122"/>
<rect x="183" y="113" width="1" height="89"/>
<rect x="203" y="48" width="1" height="116"/>
<rect x="220" y="164" width="1" height="29"/>
<rect x="249" y="164" width="1" height="26"/>
<rect x="261" y="113" width="1" height="73"/>
<rect x="278" y="144" width="1" height="37"/>
<rect x="283" y="108" width="1" height="130"/>
<rect x="292" y="155" width="1" height="2"/>
<rect x="295" y="108" width="1" height="65"/>
<rect x="302" y="104" width="1" height="4"/>
<rect x="305" y="107" width="1" height="22"/>
<rect x="307" y="82" width="1" height="174"/>
<rect x="312" y="137" width="1" height="81"/>
<rect x="317" y="158" width="1" height="62"/>
<rect x="339" y="184" width="1" height="30"/>
<rect x="341" y="189" width="1" height="40"/>
<rect x="356" y="201" width="1" height="19"/>
<rect x="365" y="120" width="1" height="77"/>
<rect x="370" y="184" width="1" height="35"/>
<rect x="373" y="146" width="1" height="84"/>
<rect x="399" y="229" width="1" height="4"/>
<rect x="407" y="201" width="1" height="32"/>
<rect x="421" y="233" width="1" height="3"/>
<rect x="426" y="235" width="1" height="28"/>
<rect x="475" y="189" width="1" height="74"/>
<rect x="581" y="255" width="1" height="3"/>
<rect x="606" y="244" width="1" height="16"/>
<rect x="661" y="237" width="1" height="23"/>
<rect x="725" y="250" width="1" height="10"/>
<rect x="734" y="207" width="1" height="56"/>
<rect x="807" y="233" width="1" height="21"/>
<rect x="822" y="253" width="1" height="3"/>
<rect x="827" y="182" width="1" height="81"/>
<rect x="877" y="259" width="1" height="26"/>
<rect x="948" y="284" width="1" height="4"/>
<rect x="975" y="287" width="1" height="14"/>
<rect x="1011" y="292" width="1" height="30"/>
<rect x="1057" y="327" width="1" height="3"/>
</g>
</g>
<g clip-path="url(#cp2)" shape-rendering="crispEdges">
<rect x="8" y="434" width="1" height="18" fill="#ff0062"/>
<rect x="10" y="434" width="1" height="19" fill="#ff0062"/>
<rect x="13" y="434" width="1" height="22" fill="#ff0062"/>
<rect x="15" y="434" width="1" height="12" fill="#ff0062"/>
<rect x="18" y="434" width="1" height="11" fill="#ff0062"/>
<rect x="20" y="434" width="1" height="11" fill="#ff0062"/>
<rect x="23" y="434" width="1" height="4" fill="#ff0062"/>
<rect x="27" y="430" width="1" height="4" fill="#00c3ff"/>
<rect x="30" y="428" width="1" height="6" fill="#00c3ff"/>
<rect x="32" y="426" width="1" height="8" fill="#00c3ff"/>
<rect x="35" y="426" width="1" height="8" fill="#00c3ff"/>
<rect x="37" y="426" width="1" height="8" fill="#00c3ff"/>
<rect x="40" y="425" width="1" height="9" fill="#00c3ff"/>
<rect x="42" y="420" width="1" height="14" fill="#00c3ff"/>
<rect x="44" y="417" width="1" height="17" fill="#00c3ff"/>
<rect x="47" y="428" width="1" height="6" fill="#00c3ff"/>
<rect x="52" y="434" width="1" height="8" fill="#ff0062"/>
<rect x="54" y="434" width="1" height="10" fill="#ff0062"/>
<rect x="57" y="434" width="1" height="14" fill="#ff0062"/>
<rect x="59" y="434" width="1" height="15" fill="#ff0062"/>
<rect x="61" y="434" width="1" height="16" fill="#ff0062"/>
<rect x="64" y="434" width="1" height="17" fill="#ff0062"/>
<rect x="66" y="434" width="1" height="17" fill="#ff0062"/>
<rect x="69" y="434" width="1" height="17" fill="#ff0062"/>
<rect x="71" y="434" width="1" height="18" fill="#ff0062"/>
<rect x="74" y="434" width="1" height="24" fill="#ff0062"/>
<rect x="76" y="434" width="1" height="28" fill="#ff0062"/>
<rect x="78" y="434" width="1" height="31" fill="#ff0062"/>
<rect x="81" y="434" width="1" height="33" fill="#ff0062"/>
<rect x="83" y="434" width="1" height="34" fill="#ff0062"/>
<rect x="86" y="434" width="1" height="35" fill="#ff0062"/>
<rect x="88" y="434" width="1" height="35" fill="#ff0062"/>
<rect x="91" y="434" width="1" height="36" fill="#ff0062"/>
<rect x="93" y="434" width="1" height="36" fill="#ff0062"/>
<rect x="95" y="434" width="1" height="36" fill="#ff0062"/>
<rect x="98" y="434" width="1" height="36" fill="#ff0062"/>
<rect x="100" y="434" width="1" height="36" fill="#ff0062"/>
<rect x="103" y="434" width="1" height="37" fill="#ff0062"/>
<rect x="105" y="434" width="1" height="37" fill="#ff0062"/>
<rect x="108" y="434" width="1" height="37" fill="#ff0062"/>
<rect x="110" y="434" width="1" height="38" fill="#ff0062"/>
<rect x="112" y="434" width="1" height="39" fill="#ff0062"/>
<rect x="115" y="434" width="1" height="24" fill="#ff0062"/>
<rect x="117" y="434" width="1" height="15" fill="#707070"/>
<rect x="120" y="434" width="1" height="7" fill="#707070"/>
<rect x="122" y="434" width="1" height="4" fill="#707070"/>
<rect x="127" y="434" width="1" height="11" fill="#707070"/>
<rect x="129" y="434" width="1" height="17" fill="#707070"/>
<rect x="132" y="434" width="1" height="22" fill="#ff0062"/>
<rect x="134" y="434" width="1" height="24" fill="#ff0062"/>
<rect x="137" y="434" width="1" height="27" fill="#ff0062"/>
<rect x="139" y="434" width="1" height="28" fill="#ff0062"/>
<rect x="142" y="434" width="1" height="30" fill="#ff0062"/>
<rect x="144" y="434" width="1" height="31" fill="#ff0062"/>
<rect x="146" y="434" width="1" height="31" fill="#ff0062"/>
<rect x="149" y="434" width="1" height="32" fill="#ff0062"/>
<rect x="151" y="434" width="1" height="27" fill="#ff0062"/>
<rect x="154" y="434" width="1" height="20" fill="#707070"/>
<rect x="156" y="434" width="1" height="18" fill="#707070"/>
<rect x="159" y="434" width="1" height="17" fill="#707070"/>
<rect x="163" y="424" width="1" height="10" fill="#00c3ff"/>
<rect x="166" y="431" width="1" height="3" fill="#00c3ff"/>
<rect x="171" y="430" width="1" height="4" fill="#00c3ff"/>
<rect x="173" y="428" width="1" height="6" fill="#00c3ff"/>
<rect x="176" y="426" width="1" height="8" fill="#00c3ff"/>
<rect x="178" y="425" width="1" height="9" fill="#00c3ff"/>
<rect x="180" y="424" width="1" height="10" fill="#00c3ff"/>
<rect x="185" y="434" width="1" height="3" fill="#707070"/>
<rect x="188" y="434" width="1" height="6" fill="#707070"/>
<rect x="190" y="434" width="1" height="8" fill="#707070"/>
<rect x="192" y="434" width="1" height="10" fill="#707070"/>
<rect x="197" y="425" width="1" height="9" fill="#00c3ff"/>
<rect x="200" y="419" width="1" height="15" fill="#00c3ff"/>
<rect x="202" y="427" width="1" height="7" fill="#00c3ff"/>
<rect x="209" y="434" width="1" height="4" fill="#707070"/>
<rect x="212" y="434" width="1" height="5" fill="#707070"/>
<rect x="214" y="434" width="1" height="5" fill="#707070"/>
<rect x="217" y="434" width="1" height="7" fill="#707070"/>
<rect x="219" y="434" width="1" height="9" fill="#707070"/>
<rect x="222" y="434" width="1" height="12" fill="#707070"/>
<rect x="224" y="434" width="1" height="13" fill="#707070"/>
<rect x="226" y="434" width="1" height="13" fill="#707070"/>
<rect x="229" y="434" width="1" height="14" fill="#707070"/>
<rect x="231" y="434" width="1" height="14" fill="#707070"/>
<rect x="234" y="434" width="1" height="14" fill="#ff0062"/>
<rect x="236" y="434" width="1" height="6" fill="#707070"/>
<rect x="241" y="431" width="1" height="3" fill="#00c3ff"/>
<rect x="243" y="429" width="1" height="5" fill="#00c3ff"/>
<rect x="246" y="427" width="1" height="7" fill="#00c3ff"/>
<rect x="251" y="434" width="1" height="7" fill="#707070"/>
<rect x="253" y="434" width="1" height="9" fill="#707070"/>
<rect x="256" y="434" width="1" height="12" fill="#ff0062"/>
<rect x="265" y="434" width="1" height="3" fill="#707070"/>
<rect x="268" y="434" width="1" height="4" fill="#707070"/>
<rect x="270" y="434" width="1" height="4" fill="#707070"/>
<rect x="275" y="428" width="1" height="6" fill="#00c3ff"/>
<rect x="280" y="427" width="1" height="7" fill="#00c3ff"/>
<rect x="285" y="434" width="1" height="3" fill="#707070"/>
<rect x="297" y="428" width="1" height="6" fill="#00c3ff"/>
<rect x="299" y="425" width="1" height="9" fill="#00c3ff"/>
<rect x="302" y="424" width="1" height="10" fill="#00c3ff"/>
<rect x="304" y="426" width="1" height="8" fill="#00c3ff"/>
<rect x="316" y="434" width="1" height="3" fill="#707070"/>
<rect x="319" y="434" width="1" height="5" fill="#707070"/>
<rect x="321" y="434" width="1" height="5" fill="#ff0062"/>
<rect x="324" y="434" width="1" height="4" fill="#707070"/>
<rect x="326" y="434" width="1" height="3" fill="#707070"/>
<rect x="338" y="434" width="1" height="4" fill="#707070"/>
<rect x="341" y="434" width="1" height="7" fill="#ff0062"/>
<rect x="343" y="434" width="1" height="9" fill="#ff0062"/>
<rect x="345" y="434" width="1" height="11" fill="#ff0062"/>
<rect x="348" y="434" width="1" height="7" fill="#ff0062"/>
<rect x="350" y="434" width="1" height="4" fill="#707070"/>
<rect x="355" y="434" width="1" height="5" fill="#707070"/>
<rect x="362" y="430" width="1" height="4" fill="#00c3ff"/>
<rect x="365" y="430" width="1" height="4" fill="#00c3ff"/>
<rect x="367" y="430" width="1" height="4" fill="#00c3ff"/>
<rect x="372" y="434" width="1" height="7" fill="#ff0062"/>
<rect x="375" y="434" width="1" height="10" fill="#ff0062"/>
<rect x="377" y="434" width="1" height="12" fill="#ff0062"/>
<rect x="379" y="434" width="1" height="13" fill="#ff0062"/>
<rect x="382" y="434" width="1" height="14" fill="#ff0062"/>
<rect x="384" y="434" width="1" height="14" fill="#ff0062"/>
<rect x="387" y="434" width="1" height="15" fill="#ff0062"/>
<rect x="389" y="434" width="1" height="15" fill="#ff0062"/>
<rect x="392" y="434" width="1" height="16" fill="#ff0062"/>
<rect x="394" y="434" width="1" height="16" fill="#ff0062"/>
<rect x="396" y="434" width="1" height="16" fill="#ff0062"/>
<rect x="399" y="434" width="1" height="17" fill="#ff0062"/>
<rect x="401" y="434" width="1" height="18" fill="#ff0062"/>
<rect x="404" y="434" width="1" height="4" fill="#707070"/>
<rect x="406" y="434" width="1" height="5" fill="#707070"/>
<rect x="409" y="434" width="1" height="5" fill="#707070"/>
<rect x="411" y="434" width="1" height="6" fill="#707070"/>
<rect x="413" y="434" width="1" height="6" fill="#707070"/>
<rect x="416" y="434" width="1" height="6" fill="#707070"/>
<rect x="418" y="434" width="1" height="7" fill="#707070"/>
<rect x="421" y="434" width="1" height="8" fill="#ff0062"/>
<rect x="423" y="434" width="1" height="9" fill="#ff0062"/>
<rect x="426" y="434" width="1" height="16" fill="#ff0062"/>
<rect x="428" y="434" width="1" height="20" fill="#ff0062"/>
<rect x="430" y="434" width="1" height="23" fill="#ff0062"/>
<rect x="433" y="434" width="1" height="25" fill="#ff0062"/>
<rect x="435" y="434" width="1" height="26" fill="#ff0062"/>
<rect x="438" y="434" width="1" height="27" fill="#ff0062"/>
<rect x="440" y="434" width="1" height="27" fill="#ff0062"/>
<rect x="443" y="434" width="1" height="28" fill="#ff0062"/>
<rect x="445" y="434" width="1" height="28" fill="#ff0062"/>
<rect x="447" y="434" width="1" height="28" fill="#ff0062"/>
<rect x="450" y="434" width="1" height="28" fill="#ff0062"/>
<rect x="452" y="434" width="1" height="29" fill="#ff0062"/>
<rect x="455" y="434" width="1" height="11" fill="#707070"/>
<rect x="460" y="425" width="1" height="9" fill="#00c3ff"/>
<rect x="462" y="415" width="1" height="19" fill="#00c3ff"/>
<rect x="464" y="410" width="1" height="24" fill="#00c3ff"/>
<rect x="467" y="404" width="1" height="30" fill="#00c3ff"/>
<rect x="469" y="401" width="1" height="33" fill="#00c3ff"/>
<rect x="472" y="403" width="1" height="31" fill="#00c3ff"/>
<rect x="474" y="416" width="1" height="18" fill="#00c3ff"/>
<rect x="477" y="428" width="1" height="6" fill="#00c3ff"/>
<rect x="479" y="434" width="1" height="4" fill="#707070"/>
<rect x="481" y="434" width="1" height="9" fill="#707070"/>
<rect x="484" y="434" width="1" height="12" fill="#ff0062"/>
<rect x="486" y="434" width="1" height="14" fill="#ff0062"/>
<rect x="489" y="434" width="1" height="16" fill="#ff0062"/>
<rect x="491" y="434" width="1" height="16" fill="#ff0062"/>
<rect x="494" y="434" width="1" height="18" fill="#ff0062"/>
<rect x="496" y="434" width="1" height="19" fill="#ff0062"/>
<rect x="498" y="434" width="1" height="19" fill="#ff0062"/>
<rect x="501" y="434" width="1" height="19" fill="#ff0062"/>
<rect x="503" y="434" width="1" height="19" fill="#ff0062"/>
<rect x="506" y="434" width="1" height="19" fill="#ff0062"/>
<rect x="508" y="434" width="1" height="19" fill="#ff0062"/>
<rect x="510" y="434" width="1" height="19" fill="#ff0062"/>
<rect x="513" y="434" width="1" height="19" fill="#ff0062"/>
<rect x="515" y="434" width="1" height="19" fill="#ff0062"/>
<rect x="518" y="434" width="1" height="19" fill="#ff0062"/>
<rect x="520" y="434" width="1" height="19" fill="#ff0062"/>
<rect x="523" y="434" width="1" height="19" fill="#ff0062"/>
<rect x="525" y="434" width="1" height="19" fill="#ff0062"/>
<rect x="527" y="434" width="1" height="19" fill="#ff0062"/>
<rect x="530" y="434" width="1" height="19" fill="#ff0062"/>
<rect x="532" y="434" width="1" height="19" fill="#ff0062"/>
<rect x="535" y="434" width="1" height="19" fill="#ff0062"/>
<rect x="537" y="434" width="1" height="19" fill="#ff0062"/>
<rect x="540" y="434" width="1" height="19" fill="#ff0062"/>
<rect x="542" y="434" width="1" height="19" fill="#ff0062"/>
<rect x="544" y="434" width="1" height="19" fill="#ff0062"/>
<rect x="547" y="434" width="1" height="19" fill="#ff0062"/>
<rect x="552" y="424" width="1" height="10" fill="#00c3ff"/>
<rect x="554" y="417" width="1" height="17" fill="#00c3ff"/>
<rect x="557" y="412" width="1" height="22" fill="#00c3ff"/>
<rect x="559" y="408" width="1" height="26" fill="#00c3ff"/>
<rect x="561" y="407" width="1" height="27" fill="#00c3ff"/>
<rect x="564" y="405" width="1" height="29" fill="#00c3ff"/>
<rect x="566" y="404" width="1" height="30" fill="#00c3ff"/>
<rect x="569" y="403" width="1" height="31" fill="#00c3ff"/>
<rect x="571" y="400" width="1" height="34" fill="#00c3ff"/>
<rect x="574" y="398" width="1" height="36" fill="#00c3ff"/>
<rect x="576" y="397" width="1" height="37" fill="#00c3ff"/>
<rect x="578" y="396" width="1" height="38" fill="#00c3ff"/>
<rect x="581" y="408" width="1" height="26" fill="#00c3ff"/>
<rect x="583" y="416" width="1" height="18" fill="#00c3ff"/>
<rect x="586" y="422" width="1" height="12" fill="#00c3ff"/>
<rect x="588" y="414" width="1" height="20" fill="#00c3ff"/>
<rect x="591" y="409" width="1" height="25" fill="#00c3ff"/>
<rect x="593" y="406" width="1" height="28" fill="#00c3ff"/>
<rect x="595" y="404" width="1" height="30" fill="#00c3ff"/>
<rect x="598" y="403" width="1" height="31" fill="#00c3ff"/>
<rect x="600" y="402" width="1" height="32" fill="#00c3ff"/>
<rect x="603" y="401" width="1" height="33" fill="#00c3ff"/>
<rect x="605" y="418" width="1" height="16" fill="#00c3ff"/>
<rect x="610" y="434" width="1" height="8" fill="#ff0062"/>
<rect x="612" y="434" width="1" height="12" fill="#ff0062"/>
<rect x="615" y="434" width="1" height="17" fill="#ff0062"/>
<rect x="617" y="434" width="1" height="20" fill="#ff0062"/>
<rect x="620" y="434" width="1" height="21" fill="#ff0062"/>
<rect x="622" y="434" width="1" height="22" fill="#ff0062"/>
<rect x="625" y="434" width="1" height="23" fill="#ff0062"/>
<rect x="627" y="434" width="1" height="24" fill="#ff0062"/>
<rect x="629" y="434" width="1" height="24" fill="#ff0062"/>
<rect x="632" y="434" width="1" height="24" fill="#ff0062"/>
<rect x="634" y="434" width="1" height="24" fill="#ff0062"/>
<rect x="637" y="434" width="1" height="24" fill="#ff0062"/>
<rect x="639" y="434" width="1" height="24" fill="#ff0062"/>
<rect x="642" y="434" width="1" height="24" fill="#ff0062"/>
<rect x="644" y="434" width="1" height="25" fill="#ff0062"/>
<rect x="646" y="434" width="1" height="25" fill="#ff0062"/>
<rect x="649" y="434" width="1" height="25" fill="#ff0062"/>
<rect x="651" y="434" width="1" height="25" fill="#ff0062"/>
<rect x="654" y="434" width="1" height="25" fill="#ff0062"/>
<rect x="656" y="434" width="1" height="25" fill="#ff0062"/>
<rect x="659" y="434" width="1" height="4" fill="#707070"/>
<rect x="661" y="434" width="1" height="4" fill="#707070"/>
<rect x="663" y="434" width="1" height="4" fill="#707070"/>
<rect x="666" y="434" width="1" height="4" fill="#ff0062"/>
<rect x="668" y="434" width="1" height="5" fill="#ff0062"/>
<rect x="671" y="434" width="1" height="4" fill="#ff0062"/>
<rect x="673" y="434" width="1" height="5" fill="#ff0062"/>
<rect x="676" y="434" width="1" height="5" fill="#ff0062"/>
<rect x="678" y="434" width="1" height="5" fill="#ff0062"/>
<rect x="680" y="434" width="1" height="5" fill="#707070"/>
<rect x="683" y="434" width="1" height="5" fill="#707070"/>
<rect x="685" y="434" width="1" height="5" fill="#707070"/>
<rect x="688" y="434" width="1" height="5" fill="#707070"/>
<rect x="690" y="434" width="1" height="5" fill="#707070"/>
<rect x="693" y="434" width="1" height="5" fill="#707070"/>
<rect x="695" y="434" width="1" height="5" fill="#707070"/>
<rect x="697" y="434" width="1" height="5" fill="#707070"/>
<rect x="700" y="434" width="1" height="5" fill="#707070"/>
<rect x="702" y="434" width="1" height="5" fill="#707070"/>
<rect x="705" y="434" width="1" height="5" fill="#707070"/>
<rect x="707" y="434" width="1" height="5" fill="#707070"/>
<rect x="710" y="434" width="1" height="5" fill="#707070"/>
<rect x="712" y="434" width="1" height="5" fill="#707070"/>
<rect x="714" y="434" width="1" height="5" fill="#707070"/>
<rect x="717" y="422" width="1" height="12" fill="#00c3ff"/>
<rect x="719" y="414" width="1" height="20" fill="#00c3ff"/>
<rect x="722" y="408" width="1" height="26" fill="#00c3ff"/>
<rect x="724" y="420" width="1" height="14" fill="#00c3ff"/>
<rect x="727" y="428" width="1" height="6" fill="#00c3ff"/>
<rect x="731" y="434" width="1" height="4" fill="#707070"/>
<rect x="734" y="434" width="1" height="9" fill="#707070"/>
<rect x="736" y="434" width="1" height="12" fill="#ff0062"/>
<rect x="739" y="434" width="1" height="14" fill="#ff0062"/>
<rect x="741" y="434" width="1" height="16" fill="#ff0062"/>
<rect x="744" y="434" width="1" height="17" fill="#ff0062"/>
<rect x="746" y="434" width="1" height="17" fill="#ff0062"/>
<rect x="748" y="434" width="1" height="18" fill="#ff0062"/>
<rect x="751" y="434" width="1" height="18" fill="#ff0062"/>
<rect x="753" y="434" width="1" height="5" fill="#707070"/>
<rect x="756" y="423" width="1" height="11" fill="#00c3ff"/>
<rect x="758" y="415" width="1" height="19" fill="#00c3ff"/>
<rect x="761" y="409" width="1" height="25" fill="#00c3ff"/>
<rect x="763" y="405" width="1" height="29" fill="#00c3ff"/>
<rect x="765" y="402" width="1" height="32" fill="#00c3ff"/>
<rect x="768" y="400" width="1" height="34" fill="#00c3ff"/>
<rect x="770" y="399" width="1" height="35" fill="#00c3ff"/>
<rect x="773" y="398" width="1" height="36" fill="#00c3ff"/>
<rect x="775" y="397" width="1" height="37" fill="#00c3ff"/>
<rect x="778" y="397" width="1" height="37" fill="#00c3ff"/>
<rect x="780" y="397" width="1" height="37" fill="#00c3ff"/>
<rect x="782" y="397" width="1" height="37" fill="#00c3ff"/>
<rect x="785" y="397" width="1" height="37" fill="#00c3ff"/>
<rect x="787" y="397" width="1" height="37" fill="#00c3ff"/>
<rect x="790" y="396" width="1" height="38" fill="#00c3ff"/>
<rect x="792" y="396" width="1" height="38" fill="#00c3ff"/>
<rect x="795" y="396" width="1" height="38" fill="#00c3ff"/>
<rect x="797" y="396" width="1" height="38" fill="#00c3ff"/>
<rect x="799" y="396" width="1" height="38" fill="#00c3ff"/>
<rect x="802" y="396" width="1" height="38" fill="#00c3ff"/>
<rect x="804" y="396" width="1" height="38" fill="#00c3ff"/>
<rect x="807" y="422" width="1" height="12" fill="#707070"/>
<rect x="809" y="434" width="1" height="6" fill="#ff0062"/>
<rect x="812" y="434" width="1" height="16" fill="#ff0062"/>
<rect x="814" y="434" width="1" height="25" fill="#ff0062"/>
<rect x="816" y="434" width="1" height="29" fill="#ff0062"/>
<rect x="819" y="434" width="1" height="32" fill="#ff0062"/>
<rect x="821" y="434" width="1" height="35" fill="#ff0062"/>
<rect x="824" y="434" width="1" height="36" fill="#ff0062"/>
<rect x="826" y="434" width="1" height="38" fill="#ff0062"/>
<rect x="829" y="434" width="1" height="38" fill="#ff0062"/>
<rect x="831" y="434" width="1" height="39" fill="#ff0062"/>
<rect x="833" y="434" width="1" height="40" fill="#ff0062"/>
<rect x="836" y="434" width="1" height="40" fill="#ff0062"/>
<rect x="838" y="434" width="1" height="40" fill="#ff0062"/>
<rect x="841" y="434" width="1" height="40" fill="#ff0062"/>
<rect x="843" y="434" width="1" height="40" fill="#ff0062"/>
<rect x="845" y="434" width="1" height="40" fill="#ff0062"/>
<rect x="848" y="434" width="1" height="40" fill="#ff0062"/>
<rect x="850" y="434" width="1" height="40" fill="#ff0062"/>
<rect x="853" y="434" width="1" height="40" fill="#ff0062"/>
<rect x="855" y="434" width="1" height="26" fill="#ff0062"/>
<rect x="858" y="434" width="1" height="13" fill="#ff0062"/>
<rect x="860" y="434" width="1" height="6" fill="#707070"/>
<rect x="867" y="429" width="1" height="5" fill="#707070"/>
<rect x="870" y="428" width="1" height="6" fill="#707070"/>
<rect x="872" y="427" width="1" height="7" fill="#707070"/>
<rect x="875" y="426" width="1" height="8" fill="#707070"/>
<rect x="877" y="434" width="1" height="9" fill="#707070"/>
<rect x="879" y="434" width="1" height="19" fill="#ff0062"/>
<rect x="882" y="434" width="1" height="26" fill="#ff0062"/>
<rect x="884" y="434" width="1" height="30" fill="#ff0062"/>
<rect x="887" y="434" width="1" height="34" fill="#ff0062"/>
<rect x="889" y="434" width="1" height="36" fill="#ff0062"/>
<rect x="892" y="434" width="1" height="37" fill="#ff0062"/>
<rect x="894" y="434" width="1" height="38" fill="#ff0062"/>
<rect x="896" y="434" width="1" height="38" fill="#ff0062"/>
<rect x="899" y="434" width="1" height="39" fill="#ff0062"/>
<rect x="901" y="434" width="1" height="39" fill="#ff0062"/>
<rect x="904" y="434" width="1" height="39" fill="#ff0062"/>
<rect x="906" y="434" width="1" height="39" fill="#ff0062"/>
<rect x="909" y="434" width="1" height="40" fill="#ff0062"/>
<rect x="911" y="434" width="1" height="40" fill="#ff0062"/>
<rect x="913" y="434" width="1" height="40" fill="#ff0062"/>
<rect x="916" y="434" width="1" height="40" fill="#ff0062"/>
<rect x="918" y="434" width="1" height="40" fill="#ff0062"/>
<rect x="921" y="434" width="1" height="40" fill="#ff0062"/>
<rect x="923" y="434" width="1" height="40" fill="#ff0062"/>
<rect x="926" y="434" width="1" height="40" fill="#ff0062"/>
<rect x="928" y="434" width="1" height="40" fill="#ff0062"/>
<rect x="930" y="434" width="1" height="40" fill="#ff0062"/>
<rect x="933" y="434" width="1" height="40" fill="#ff0062"/>
<rect x="935" y="434" width="1" height="40" fill="#ff0062"/>
<rect x="938" y="434" width="1" height="40" fill="#ff0062"/>
<rect x="940" y="434" width="1" height="41" fill="#ff0062"/>
<rect x="943" y="434" width="1" height="41" fill="#ff0062"/>
<rect x="945" y="434" width="1" height="41" fill="#ff0062"/>
<rect x="947" y="434" width="1" height="41" fill="#ff0062"/>
<rect x="950" y="434" width="1" height="41" fill="#ff0062"/>
<rect x="952" y="434" width="1" height="41" fill="#ff0062"/>
<rect x="955" y="434" width="1" height="41" fill="#ff0062"/>
<rect x="957" y="434" width="1" height="41" fill="#ff0062"/>
<rect x="960" y="434" width="1" height="41" fill="#ff0062"/>
<rect x="962" y="434" width="1" height="41" fill="#ff0062"/>
<rect x="964" y="434" width="1" height="41" fill="#ff0062"/>
<rect x="967" y="434" width="1" height="41" fill="#ff0062"/>
<rect x="969" y="434" width="1" height="41" fill="#ff0062"/>
<rect x="972" y="434" width="1" height="41" fill="#ff0062"/>
<rect x="974" y="434" width="1" height="41" fill="#ff0062"/>
<rect x="977" y="434" width="1" height="41" fill="#ff0062"/>
<rect x="979" y="434" width="1" height="41" fill="#ff0062"/>
<rect x="981" y="434" width="1" height="41" fill="#ff0062"/>
<rect x="984" y="434" width="1" height="41" fill="#ff0062"/>
<rect x="986" y="434" width="1" height="41" fill="#ff0062"/>
<rect x="989" y="434" width="1" height="41" fill="#ff0062"/>
<rect x="991" y="434" width="1" height="41" fill="#ff0062"/>
<rect x="994" y="434" width="1" height="41" fill="#ff0062"/>
<rect x="996" y="434" width="1" height="20" fill="#707070"/>
<rect x="998" y="434" width="1" height="7" fill="#707070"/>
<rect x="1003" y="425" width="1" height="9" fill="#00c3ff"/>
<rect x="1006" y="421" width="1" height="13" fill="#00c3ff"/>
<rect x="1008" y="419" width="1" height="15" fill="#00c3ff"/>
<rect x="1013" y="434" width="1" height="13" fill="#707070"/>
<rect x="1015" y="434" width="1" height="20" fill="#707070"/>
<rect x="1018" y="434" width="1" height="24" fill="#707070"/>
<rect x="1020" y="434" width="1" height="28" fill="#707070"/>
<rect x="1023" y="434" width="1" height="30" fill="#707070"/>
<rect x="1025" y="434" width="1" height="31" fill="#707070"/>
<rect x="1028" y="434" width="1" height="32" fill="#707070"/>
<rect x="1030" y="434" width="1" height="33" fill="#707070"/>
<rect x="1032" y="434" width="1" height="33" fill="#707070"/>
<rect x="1035" y="434" width="1" height="34" fill="#707070"/>
<rect x="1037" y="434" width="1" height="34" fill="#707070"/>
<rect x="1040" y="434" width="1" height="34" fill="#707070"/>
<rect x="1042" y="434" width="1" height="34" fill="#707070"/>
<rect x="1045" y="434" width="1" height="34" fill="#707070"/>
<rect x="1047" y="434" width="1" height="34" fill="#707070"/>
<rect x="1049" y="434" width="1" height="34" fill="#707070"/>
<rect x="1052" y="434" width="1" height="34" fill="#707070"/>
<rect x="1054" y="434" width="1" height="34" fill="#707070"/>
<rect x="1057" y="434" width="1" height="36" fill="#ff0062"/>
<rect x="1059" y="434" width="1" height="38" fill="#ff0062"/>
<rect x="1062" y="434" width="1" height="39" fill="#ff0062"/>
<rect x="1064" y="434" width="1" height="40" fill="#ff0062"/>
<rect x="1066" y="434" width="1" height="40" fill="#ff0062"/>
<rect x="1069" y="434" width="1" height="40" fill="#ff0062"/>
<rect x="1071" y="434" width="1" height="40" fill="#ff0062"/>
<rect x="1074" y="434" width="1" height="41" fill="#ff0062"/>
<rect x="1076" y="434" width="1" height="41" fill="#ff0062"/>
<rect x="1079" y="434" width="1" height="41" fill="#ff0062"/>
<rect x="1081" y="434" width="1" height="41" fill="#ff0062"/>
</g>
<g fill="#f3f3f3" shape-rendering="crispEdges">
<rect x="9" y="26" width="1263" height="2"/>
<rect x="9" y="510" width="1263" height="2"/>
<rect x="9" y="26" width="2" height="486"/>
<rect x="1270" y="26" width="2" height="486"/>
</g>
<g fill="#e3e3e5" shape-rendering="crispEdges">
<rect x="1191" y="28" width="1" height="482"/>
<rect x="11" y="483" width="1259" height="1"/>
</g>
<rect x="11" y="385" width="1259" height="1" fill="#e0e3eb" shape-rendering="crispEdges"/>
<g font-family="'Liberation Sans', sans-serif" xml:space="preserve">
<text x="10.1" y="18.6" font-size="12.3" fill="#131722" stroke="#131722" stroke-width="0.3" textLength="64.9" lengthAdjust="spacingAndGlyphs">CROWNGIMS</text>
<text x="79.6" y="18.6" font-size="12.3" fill="#131722" stroke="#131722" stroke-width="0.3" textLength="40.6" lengthAdjust="spacingAndGlyphs">created</text>
<text x="124.1" y="18.6" font-size="12.3" fill="#131722" stroke="#131722" stroke-width="0.3" textLength="23.4" lengthAdjust="spacingAndGlyphs">with</text>
<text x="152.7" y="18.6" font-size="12.3" fill="#131722" stroke="#131722" stroke-width="0.3" textLength="92.7" lengthAdjust="spacingAndGlyphs">TradingView.com,</text>
<text x="250.6" y="18.6" font-size="12.3" fill="#131722" stroke="#131722" stroke-width="0.3" textLength="17.4" lengthAdjust="spacingAndGlyphs">Oct</text>
<text x="272.7" y="18.6" font-size="12.3" fill="#131722" stroke="#131722" stroke-width="0.3" textLength="15.7" lengthAdjust="spacingAndGlyphs">09,</text>
<text x="293.8" y="18.6" font-size="12.3" fill="#131722" stroke="#131722" stroke-width="0.3" textLength="23.4" lengthAdjust="spacingAndGlyphs">2025</text>
<text x="322.7" y="18.6" font-size="12.3" fill="#131722" stroke="#131722" stroke-width="0.3" textLength="28.1" lengthAdjust="spacingAndGlyphs">18:52</text>
<text x="355.8" y="18.6" font-size="12.3" fill="#131722" stroke="#131722" stroke-width="0.3" textLength="20.8" lengthAdjust="spacingAndGlyphs">UTC</text>
<text x="18.3" y="46.2" font-size="12.3" fill="#131722" stroke="#131722" stroke-width="0.3" textLength="68.2" lengthAdjust="spacingAndGlyphs">SPONGEUSDT</text>
<text x="93.4" y="46.2" font-size="12.3" fill="#131722" stroke="#131722" stroke-width="1.0">·</text>
<text x="100.7" y="46.2" font-size="12.3" fill="#131722" stroke="#131722" stroke-width="0.3" textLength="37.4" lengthAdjust="spacingAndGlyphs">Sponge</text>
<text x="144.6" y="46.2" font-size="12.3" fill="#131722" stroke="#131722" stroke-width="0.3">/</text>
<text x="153.9" y="46.2" font-size="12.3" fill="#131722" stroke="#131722" stroke-width="0.3" textLength="27.5" lengthAdjust="spacingAndGlyphs">Tether</text>
<text x="190.5" y="46.2" font-size="12.3" fill="#131722" stroke="#131722" stroke-width="0.3" textLength="20.0" lengthAdjust="spacingAndGlyphs">USD</text>
<text x="215.6" y="46.2" font-size="12.3" fill="#131722" stroke="#131722" stroke-width="1.0">·</text>
<text x="223.7" y="46.2" font-size="12.3" fill="#131722" stroke="#131722" stroke-width="0.3" textLength="12.1" lengthAdjust="spacingAndGlyphs">1D</text>
<text x="241.8" y="46.2" font-size="12.3" fill="#131722" stroke="#131722" stroke-width="1.0">·</text>
<text x="248.3" y="46.2" font-size="12.3" fill="#131722" stroke="#131722" stroke-width="0.3" textLength="44.1" lengthAdjust="spacingAndGlyphs">Poloniex</text>
<text x="300.8" y="46.2" font-size="12.3" fill="#131722" stroke="#131722" stroke-width="0.3" textLength="7" lengthAdjust="spacingAndGlyphs">O</text>
<text x="309.2" y="46.2" font-size="12.3" fill="#26a69a" stroke="#26a69a" stroke-width="0.3" textLength="47.2" lengthAdjust="spacingAndGlyphs">0.000070</text>
<text x="365" y="46.2" font-size="12.3" fill="#131722" stroke="#131722" stroke-width="0.3" textLength="7" lengthAdjust="spacingAndGlyphs">H</text>
<text x="372.8" y="46.2" font-size="12.3" fill="#26a69a" stroke="#26a69a" stroke-width="0.3" textLength="47.2" lengthAdjust="spacingAndGlyphs">0.000070</text>
<text x="427.9" y="46.2" font-size="12.3" fill="#131722" stroke="#131722" stroke-width="0.3" textLength="5.6" lengthAdjust="spacingAndGlyphs">L</text>
<text x="434.6" y="46.2" font-size="12.3" fill="#26a69a" stroke="#26a69a" stroke-width="0.3" textLength="47.2" lengthAdjust="spacingAndGlyphs">0.000070</text>
<text x="489.3" y="46.2" font-size="12.3" fill="#131722" stroke="#131722" stroke-width="0.3" textLength="6.6" lengthAdjust="spacingAndGlyphs">C</text>
<text x="497.2" y="46.2" font-size="12.3" fill="#26a69a" stroke="#26a69a" stroke-width="0.3" textLength="47.2" lengthAdjust="spacingAndGlyphs">0.000070</text>
<text x="553" y="46.2" font-size="12.3" fill="#26a69a" stroke="#26a69a" stroke-width="0.3" textLength="47.2" lengthAdjust="spacingAndGlyphs">0.000000</text>
<text x="605.5" y="46.2" font-size="12.3" fill="#26a69a" stroke="#26a69a" stroke-width="0.3" textLength="37.8" lengthAdjust="spacingAndGlyphs">(0.00%)</text>
<text x="18.3" y="62.8" font-size="12.3" fill="#131722" stroke="#131722" stroke-width="0.3" textLength="20.0" lengthAdjust="spacingAndGlyphs">Hull</text>
<text x="43.3" y="62.8" font-size="12.3" fill="#131722" stroke="#131722" stroke-width="0.3" textLength="24.3" lengthAdjust="spacingAndGlyphs">Suite</text>
<text x="74" y="62.8" font-size="12.3" fill="#131722" stroke="#131722" stroke-width="0.3" textLength="11.7" lengthAdjust="spacingAndGlyphs">by</text>
<text x="90.7" y="62.8" font-size="12.3" fill="#131722" stroke="#131722" stroke-width="0.3" textLength="37.4" lengthAdjust="spacingAndGlyphs">InSilico</text>
<text x="133.1" y="62.8" font-size="12.3" fill="#131722" stroke="#131722" stroke-width="0.3" textLength="34.1" lengthAdjust="spacingAndGlyphs">(close,</text>
<text x="172.2" y="62.8" font-size="12.3" fill="#131722" stroke="#131722" stroke-width="0.3" textLength="27.5" lengthAdjust="spacingAndGlyphs">Hma,</text>
<text x="203.8" y="62.8" font-size="12.3" fill="#131722" stroke="#131722" stroke-width="0.3" textLength="14.2" lengthAdjust="spacingAndGlyphs">55,</text>
<text x="225" y="62.8" font-size="12.3" fill="#131722" stroke="#131722" stroke-width="0.3" textLength="9" lengthAdjust="spacingAndGlyphs">1,</text>
<text x="239" y="62.8" font-size="12.3" fill="#131722" stroke="#131722" stroke-width="0.3" textLength="22.6" lengthAdjust="spacingAndGlyphs">240,</text>
<text x="266.6" y="62.8" font-size="12.3" fill="#131722" stroke="#131722" stroke-width="0.3" textLength="9.1" lengthAdjust="spacingAndGlyphs">1,</text>
<text x="280.7" y="62.8" font-size="12.3" fill="#131722" stroke="#131722" stroke-width="0.3" textLength="15.3" lengthAdjust="spacingAndGlyphs">40)</text>
<text x="305" y="62.8" font-size="12.3" fill="#ff0000" stroke="#ff0000" stroke-width="0.3" textLength="47.4" lengthAdjust="spacingAndGlyphs">0.000070</text>
<text x="360.8" y="62.8" font-size="12.3" fill="#ff0000" stroke="#ff0000" stroke-width="0.3" textLength="46.8" lengthAdjust="spacingAndGlyphs">0.000071</text>
<text x="18.3" y="404.8" font-size="12.3" fill="#131722" stroke="#131722" stroke-width="0.3" textLength="20.3" lengthAdjust="spacingAndGlyphs">QQE</text>
<text x="42.4" y="404.8" font-size="12.3" fill="#131722" stroke="#131722" stroke-width="0.3" textLength="25.0" lengthAdjust="spacingAndGlyphs">MOD</text>
<text x="72.4" y="404.8" font-size="12.3" fill="#131722" stroke="#131722" stroke-width="0.3" textLength="13.8" lengthAdjust="spacingAndGlyphs">(6,</text>
<text x="91" y="404.8" font-size="12.3" fill="#131722" stroke="#131722" stroke-width="0.3" textLength="9.5" lengthAdjust="spacingAndGlyphs">5,</text>
<text x="105.2" y="404.8" font-size="12.3" fill="#131722" stroke="#131722" stroke-width="0.3" textLength="9.8" lengthAdjust="spacingAndGlyphs">3,</text>
<text x="119.8" y="404.8" font-size="12.3" fill="#131722" stroke="#131722" stroke-width="0.3" textLength="9.7" lengthAdjust="spacingAndGlyphs">3,</text>
<text x="133.5" y="404.8" font-size="12.3" fill="#131722" stroke="#131722" stroke-width="0.3" textLength="28.7" lengthAdjust="spacingAndGlyphs">close,</text>
<text x="168.9" y="404.8" font-size="12.3" fill="#131722" stroke="#131722" stroke-width="0.3" textLength="9.5" lengthAdjust="spacingAndGlyphs">6,</text>
<text x="183.4" y="404.8" font-size="12.3" fill="#131722" stroke="#131722" stroke-width="0.3" textLength="9.6" lengthAdjust="spacingAndGlyphs">5,</text>
<text x="198" y="404.8" font-size="12.3" fill="#131722" stroke="#131722" stroke-width="0.3" textLength="24.6" lengthAdjust="spacingAndGlyphs">1.61,</text>
<text x="228.8" y="404.8" font-size="12.3" fill="#131722" stroke="#131722" stroke-width="0.3" textLength="9.5" lengthAdjust="spacingAndGlyphs">3,</text>
<text x="243" y="404.8" font-size="12.3" fill="#131722" stroke="#131722" stroke-width="0.3" textLength="29.9" lengthAdjust="spacingAndGlyphs">close,</text>
<text x="278.7" y="404.8" font-size="12.3" fill="#131722" stroke="#131722" stroke-width="0.3" textLength="15.8" lengthAdjust="spacingAndGlyphs">50,</text>
<text x="299.2" y="404.8" font-size="12.3" fill="#131722" stroke="#131722" stroke-width="0.3" textLength="27.0" lengthAdjust="spacingAndGlyphs">0.35)</text>
<text x="403" y="404.8" font-size="12.3" fill="#707070" stroke="#707070" stroke-width="0.3" textLength="59.5" lengthAdjust="spacingAndGlyphs">−49.561491</text>
<text x="472" y="404.8" font-size="12.3" fill="#131722" stroke="#131722" stroke-width="0.3">∅</text>
<text x="490" y="404.8" font-size="12.3" fill="#ff0062" stroke="#ff0062" stroke-width="0.6" textLength="59.5" lengthAdjust="spacingAndGlyphs">−49.561491</text>
<text x="975.6" y="152.9" font-size="16.5" fill="#f23645" stroke="#f23645" stroke-width="0.1" textLength="117" lengthAdjust="spacingAndGlyphs">Resistance Level</text>
<text x="980.2" y="342" font-size="16.5" fill="#f23645" stroke="#f23645" stroke-width="0.1" textLength="97.6" lengthAdjust="spacingAndGlyphs">Support Level</text>
<text x="23.3" y="501" font-size="12.3" fill="#131722" stroke="#131722" stroke-width="0.3" textLength="19.7" lengthAdjust="spacingAndGlyphs">Aug</text>
<text x="98.9" y="501" font-size="12.3" fill="#131722" stroke="#131722" stroke-width="0.3" textLength="19" lengthAdjust="spacingAndGlyphs">Sep</text>
<text x="171.8" y="501" font-size="12.3" fill="#131722" stroke="#131722" stroke-width="0.3" textLength="18.8" lengthAdjust="spacingAndGlyphs">Oct</text>
<text x="246.4" y="501" font-size="12.3" fill="#131722" stroke="#131722" stroke-width="0.3" textLength="20" lengthAdjust="spacingAndGlyphs">Nov</text>
<text x="319.4" y="501" font-size="12.3" fill="#131722" stroke="#131722" stroke-width="0.3" textLength="19.8" lengthAdjust="spacingAndGlyphs">Dec</text>
<text x="390.5" y="501" font-size="12.3" fill="#131722" stroke="#131722" stroke-width="0.2" font-weight="bold" textLength="28.1" lengthAdjust="spacingAndGlyphs">2025</text>
<text x="470.0" y="501" font-size="12.3" fill="#131722" stroke="#131722" stroke-width="0.3" textLength="19.5" lengthAdjust="spacingAndGlyphs">Feb</text>
<text x="538.0" y="501" font-size="12.3" fill="#131722" stroke="#131722" stroke-width="0.3" textLength="19.5" lengthAdjust="spacingAndGlyphs">Mar</text>
<text x="613.8" y="501" font-size="12.3" fill="#131722" stroke="#131722" stroke-width="0.3" textLength="18.4" lengthAdjust="spacingAndGlyphs">Apr</text>
<text x="685.5" y="501" font-size="12.3" fill="#131722" stroke="#131722" stroke-width="0.3" textLength="20.7" lengthAdjust="spacingAndGlyphs">May</text>
<text x="761.7" y="501" font-size="12.3" fill="#131722" stroke="#131722" stroke-width="0.3" textLength="18.8" lengthAdjust="spacingAndGlyphs">Jun</text>
<text x="836.0" y="501" font-size="12.3" fill="#131722" stroke="#131722" stroke-width="0.3" textLength="15.8" lengthAdjust="spacingAndGlyphs">Jul</text>
<text x="909.3" y="501" font-size="12.3" fill="#131722" stroke="#131722" stroke-width="0.3" textLength="19.7" lengthAdjust="spacingAndGlyphs">Aug</text>
<text x="984.9" y="501" font-size="12.3" fill="#131722" stroke="#131722" stroke-width="0.3" textLength="19" lengthAdjust="spacingAndGlyphs">Sep</text>
<text x="1057.8" y="501" font-size="12.3" fill="#131722" stroke="#131722" stroke-width="0.3" textLength="18.8" lengthAdjust="spacingAndGlyphs">Oct</text>
<text x="1132.5" y="501" font-size="12.3" fill="#131722" stroke="#131722" stroke-width="0.3" textLength="20" lengthAdjust="spacingAndGlyphs">Nov</text>
<text x="1200" y="78.8" font-size="12.3" fill="#131722" stroke="#131722" stroke-width="0.3" textLength="48.2" lengthAdjust="spacingAndGlyphs">0.000220</text>
<text x="1200" y="126.7" font-size="12.3" fill="#131722" stroke="#131722" stroke-width="0.3" textLength="48.2" lengthAdjust="spacingAndGlyphs">0.000180</text>
<text x="1200" y="186.60000000000002" font-size="12.3" fill="#131722" stroke="#131722" stroke-width="0.3" textLength="48.2" lengthAdjust="spacingAndGlyphs">0.000140</text>
<text x="1200" y="222.9" font-size="12.3" fill="#131722" stroke="#131722" stroke-width="0.3" textLength="48.2" lengthAdjust="spacingAndGlyphs">0.000120</text>
<text x="1200" y="266.0" font-size="12.3" fill="#131722" stroke="#131722" stroke-width="0.3" textLength="48.2" lengthAdjust="spacingAndGlyphs">0.000100</text>
<text x="1200" y="304.6" font-size="12.3" fill="#131722" stroke="#131722" stroke-width="0.3" textLength="48.2" lengthAdjust="spacingAndGlyphs">0.000085</text>
<text x="1200" y="382.90000000000003" font-size="12.3" fill="#131722" stroke="#131722" stroke-width="0.3" textLength="48.2" lengthAdjust="spacingAndGlyphs">0.000061</text>
<text x="1200" y="405.1" font-size="12.3" fill="#131722" stroke="#131722" stroke-width="0.3" textLength="54.5" lengthAdjust="spacingAndGlyphs">40.000000</text>
<text x="1200" y="438.0" font-size="12.3" fill="#131722" stroke="#131722" stroke-width="0.3" textLength="48.2" lengthAdjust="spacingAndGlyphs">0.000000</text>
<text x="1200" y="470.8" font-size="12.3" fill="#131722" stroke="#131722" stroke-width="0.3" textLength="60" lengthAdjust="spacingAndGlyphs">−40.000000</text>
<path d="M1192,94H1251Q1254,94 1254,97V108Q1254,111 1251,111H1192Z" fill="#f23645"/>
<text x="1200" y="106.9" font-size="12.3" fill="#ffffff" stroke="#ffffff" stroke-width="0.3" textLength="48.2" lengthAdjust="spacingAndGlyphs">0.000196</text>
<path d="M1192,166H1251Q1254,166 1254,169V180Q1254,183 1251,183H1192Z" fill="#2962ff"/>
<text x="1200" y="178.9" font-size="12.3" fill="#ffffff" stroke="#ffffff" stroke-width="0.3" textLength="48.2" lengthAdjust="spacingAndGlyphs">0.000145</text>
<path d="M1192,304H1251Q1254,304 1254,307V318Q1254,321 1251,321H1192Z" fill="#2962ff"/>
<text x="1200" y="316.9" font-size="12.3" fill="#ffffff" stroke="#ffffff" stroke-width="0.3" textLength="48.2" lengthAdjust="spacingAndGlyphs">0.000081</text>
<path d="M1192,321H1251Q1254,321 1254,324V335Q1254,338 1251,338H1192Z" fill="#ff0000"/>
<text x="1200" y="333.9" font-size="12.3" fill="#ffffff" stroke="#ffffff" stroke-width="0.3" textLength="48.2" lengthAdjust="spacingAndGlyphs">0.000071</text>
<path d="M1192,338H1251Q1254,338 1254,341V352Q1254,355 1251,355H1192Z" fill="#26a69a"/>
<text x="1200" y="350.9" font-size="12.3" fill="#ffffff" stroke="#ffffff" stroke-width="0.3" textLength="48.2" lengthAdjust="spacingAndGlyphs">0.000070</text>
<path d="M1192,355H1251Q1254,355 1254,358V369Q1254,372 1251,372H1192Z" fill="#ff0000"/>
<text x="1200" y="367.9" font-size="12.3" fill="#ffffff" stroke="#ffffff" stroke-width="0.3" textLength="48.2" lengthAdjust="spacingAndGlyphs">0.000070</text>
<path d="M1191,338H1115Q1112,338 1112,341V352Q1112,355 1115,355H1191Z" fill="#26a69a"/>
<text x="1116.6" y="350.9" font-size="12.3" fill="#ffffff" stroke="#ffffff" stroke-width="0.3" textLength="69.5" lengthAdjust="spacingAndGlyphs">SPONGEUSDT</text>
<path d="M1192,411H1257Q1260,411 1260,414V425Q1260,428 1257,428H1192Z" fill="#00c3ff"/>
<text x="1200" y="423.9" font-size="12.3" fill="#000000" stroke="#000000" stroke-width="0.3" textLength="54.5" lengthAdjust="spacingAndGlyphs">18.476566</text>
<rect x="1192" y="465" width="78" height="17" fill="#ffffff"/>
<text x="1200.7" y="477.9" font-size="12.3" fill="#131722" stroke="#131722" stroke-width="0.3" textLength="60" lengthAdjust="spacingAndGlyphs">−48.815225</text>
<rect x="1192" y="482" width="74" height="1" fill="#6a6a6a" shape-rendering="crispEdges"/>
<rect x="1195.5" y="30.5" width="72" height="27" rx="4" ry="4" fill="#ffffff" stroke="#ebedf0" stroke-width="1"/>
<text x="1204.4" y="48" font-size="12.3" fill="#131722" stroke="#131722" stroke-width="0.3" textLength="27.3" lengthAdjust="spacingAndGlyphs">USDT</text>
<g fill="#0f0f0f">
<path d="M12,533.05H23.8V547.7H18.1V538.75H12Z"/>
<circle cx="29" cy="536" r="2.85"/>
<path d="M35.4,533.05H41.9L35.8,547.7H29.3Z"/>
</g>
<text x="49.1" y="547.8" font-size="21.3" fill="#0f0f0f" stroke="#0f0f0f" stroke-width="0" font-weight="bold" textLength="120.6" lengthAdjust="spacingAndGlyphs">TradingView</text>
</g>
</svg>
</body>
</html>
